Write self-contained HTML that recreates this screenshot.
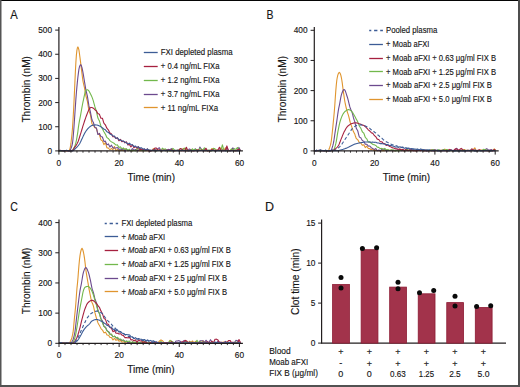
<!DOCTYPE html>
<html><head><meta charset="utf-8"><style>
html,body{margin:0;padding:0;background:#fff;}
svg{display:block;}
text{font-family:"Liberation Sans", sans-serif;fill:#161616;stroke:#161616;stroke-width:0.14px;}
</style></head><body>
<svg width="520" height="387" viewBox="0 0 520 387">
<rect x="0" y="0" width="520" height="387" fill="#fff"/>
<text x="10.20" y="18.80" font-size="12.5" textLength="7.5" lengthAdjust="spacingAndGlyphs">A</text>
<text x="151.30" y="180.90" font-size="10" text-anchor="middle">Time (min)</text>
<text transform="translate(30.4,89.3) rotate(-90)" font-size="10" text-anchor="middle" textLength="66.6" lengthAdjust="spacingAndGlyphs">Thrombin (nM)</text>
<polyline points="58.9,150.84 59.4,150.75 59.9,150.66 60.4,150.57 60.9,150.63 61.4,150.69 61.9,150.75 62.4,150.66 62.9,150.57 63.4,150.48 63.9,150.51 64.4,150.55 64.9,150.58 65.4,150.62 65.9,150.65 66.4,150.69 66.9,150.75 67.4,150.80 67.9,150.86 68.4,150.87 68.9,150.87 69.4,150.22 69.9,148.84 70.4,147.00 70.9,143.44 71.4,139.19 71.9,134.70 72.4,129.30 72.9,121.89 73.4,113.26 73.9,104.00 74.4,93.40 74.9,82.00 75.4,71.24 75.9,62.00 76.4,54.86 76.9,50.38 77.4,47.75 77.9,46.94 78.4,48.04 78.9,49.93 79.4,53.24 79.9,56.97 80.4,60.86 80.9,64.89 81.4,68.85 81.9,72.90 82.4,76.96 82.9,80.59 83.4,83.24 83.9,85.35 84.4,87.34 84.9,90.10 85.4,92.96 85.9,95.85 86.4,97.65 86.9,99.43 87.4,101.24 87.9,104.43 88.4,107.57 88.9,110.61 89.4,112.00 89.9,113.35 90.4,114.60 90.9,117.72 91.4,120.66 91.9,123.49 92.4,124.37 92.9,125.01 93.4,125.41 93.9,126.26 94.4,127.03 94.9,127.79 95.4,127.96 95.9,128.13 96.4,128.30 96.9,130.13 97.4,131.96 97.9,133.79 98.4,133.97 98.9,134.18 99.4,134.38 99.9,136.25 100.4,138.07 100.9,139.81 101.4,140.16 101.9,140.46 102.4,140.72 102.9,142.04 103.4,143.35 103.9,144.65 104.4,144.01 104.9,143.37 105.4,142.70 105.9,144.42 106.4,146.09 106.9,147.73 107.4,147.86 107.9,147.97 108.4,148.05 108.9,148.57 109.4,149.05 109.9,149.48 110.4,149.18 110.9,148.86 111.4,148.52 111.9,148.93 112.4,149.32 112.9,149.71 113.4,148.64 113.9,147.56 114.4,146.48 114.9,147.95 115.4,149.40 115.9,150.85 116.4,150.41 116.9,149.95 117.4,149.49 117.9,149.74 118.4,150.62 118.9,150.78 119.4,150.69 119.9,150.59 120.4,150.50 120.9,150.35 121.4,150.21 121.9,150.06 122.4,150.30 122.9,150.53 123.4,150.76 123.9,150.14 124.4,149.51 124.9,148.89 125.4,149.06 125.9,149.23 126.4,149.41 126.9,149.88 127.4,150.34 127.9,150.81 128.4,150.69 128.9,150.56 129.4,150.43 129.9,150.56 130.4,150.69 130.9,150.82 131.4,150.79 131.9,150.77 132.4,150.74 132.9,150.64 133.4,150.53 133.9,150.43 134.4,150.45 134.9,150.48 135.4,150.50 135.9,150.28 136.4,150.05 136.9,149.83 137.4,150.12 137.9,150.42 138.4,150.71 138.9,150.66 139.4,150.60 139.9,150.54 140.4,150.63 140.9,150.72 141.4,150.81 141.9,150.74 142.4,150.68 142.9,150.61 143.4,150.57 143.9,150.52 144.4,150.48 144.9,150.59 145.4,150.70 145.9,150.82 146.4,150.79 146.9,150.76 147.4,150.73 147.9,150.50 148.4,150.27 148.9,150.04 149.4,150.32 149.9,150.61 150.4,150.90 150.9,150.84 151.4,150.77 151.9,150.71 152.4,149.99 152.9,149.27 153.4,148.56 153.9,149.28 154.4,150.00 154.9,150.72 155.4,150.49 155.9,150.27 156.4,150.04 156.9,150.20 157.4,150.36 157.9,150.52 158.4,150.49 158.9,150.45 159.4,150.42 159.9,150.50 160.4,150.59 160.9,150.68 161.4,150.73 161.9,150.78 162.4,150.83 162.9,150.57 163.4,150.32 163.9,150.06 164.4,150.33 164.9,150.61 165.4,150.88 165.9,150.55 166.4,150.23 166.9,149.90 167.4,149.95 167.9,150.01 168.4,150.06 168.9,150.33 169.4,150.59 169.9,150.85 170.4,150.74 170.9,150.63 171.4,150.51 171.9,150.46 172.4,150.41 172.9,150.35 173.4,150.46 173.9,150.56 174.4,150.67 174.9,150.70 175.4,150.73 175.9,150.77 176.4,150.60 176.9,150.44 177.4,150.27 177.9,150.30 178.4,150.32 178.9,150.35 179.4,150.49 179.9,150.64 180.4,150.79 180.9,150.72 181.4,150.65 181.9,150.59 182.4,149.86 182.9,149.13 183.4,148.39 183.9,148.61 184.4,148.83 184.9,149.05 185.4,149.66 185.9,150.28 186.4,150.89 186.9,150.80 187.4,150.71 187.9,150.62 188.4,150.44 188.9,150.27 189.4,150.10 189.9,150.24 190.4,150.38 190.9,150.52 191.4,150.64 191.9,150.76 192.4,150.88 192.9,150.79 193.4,150.70 193.9,150.61 194.4,150.39 194.9,150.16 195.4,149.94 195.9,149.80 196.4,149.67 196.9,149.53 197.4,149.94 197.9,150.34 198.4,150.74 198.9,150.58 199.4,150.41 199.9,150.24 200.4,150.34 200.9,150.44 201.4,150.54 201.9,150.40 202.4,150.26 202.9,150.11 203.4,150.28 203.9,150.44 204.4,150.60 204.9,150.66 205.4,150.72 205.9,150.78 206.4,150.70 206.9,150.61 207.4,150.53 207.9,150.64 208.4,150.75 208.9,150.86 209.4,150.71 209.9,150.57 210.4,150.42 210.9,149.82 211.4,149.21 211.9,148.61 212.4,148.80 212.9,149.00 213.4,149.19 213.9,149.76 214.4,150.33 214.9,150.90 215.4,150.56 215.9,150.23 216.4,149.89 216.9,150.06 217.4,150.23 217.9,150.39 218.4,150.48 218.9,150.56 219.4,150.65 219.9,149.71 220.4,148.78 220.9,147.84 221.4,148.29 221.9,148.73 222.4,149.18 222.9,149.59 223.4,149.99 223.9,150.40 224.4,149.53 224.9,148.65 225.4,147.77 225.9,148.70 226.4,149.63 226.9,150.56 227.4,150.57 227.9,150.59 228.4,150.61 228.9,150.57 229.4,150.53 229.9,150.50 230.4,150.43 230.9,150.36 231.4,150.30 231.9,150.35 232.4,150.40 232.9,150.46 233.4,150.60 233.9,150.73 234.4,150.87 234.9,150.87 235.4,150.87 235.9,150.88 236.4,150.65 236.9,150.42 237.4,150.19 237.9,150.28 238.4,150.38 238.9,150.47 239.4,150.37 239.9,150.27 240.4,150.17" fill="none" stroke="#e0952e" stroke-width="1.1" stroke-linejoin="round"/>
<polyline points="58.9,150.76 59.4,150.77 59.9,150.78 60.4,150.79 60.9,150.82 61.4,150.84 61.9,150.86 62.4,150.86 62.9,150.86 63.4,150.86 63.9,150.74 64.4,150.61 64.9,150.49 65.4,150.50 65.9,150.52 66.4,150.53 66.9,150.63 67.4,150.72 67.9,150.82 68.4,150.74 68.9,150.66 69.4,150.58 69.9,150.53 70.4,149.70 70.9,148.65 71.4,147.36 71.9,145.82 72.4,143.70 72.9,139.84 73.4,134.21 73.9,128.05 74.4,120.93 74.9,113.56 75.4,106.13 75.9,98.87 76.4,92.52 76.9,86.85 77.4,81.64 77.9,77.03 78.4,73.06 78.9,69.42 79.4,67.00 79.9,65.66 80.4,64.77 80.9,64.72 81.4,65.80 81.9,67.32 82.4,69.50 82.9,72.17 83.4,74.93 83.9,77.98 84.4,81.03 84.9,84.11 85.4,87.10 85.9,89.88 86.4,92.05 86.9,94.13 87.4,96.23 87.9,99.29 88.4,102.48 88.9,105.70 89.4,107.92 89.9,109.94 90.4,111.88 90.9,114.57 91.4,117.14 91.9,119.53 92.4,120.63 92.9,121.59 93.4,122.43 93.9,124.23 94.4,125.87 94.9,127.32 95.4,127.54 95.9,127.73 96.4,128.00 96.9,130.06 97.4,132.27 97.9,134.51 98.4,134.28 98.9,133.84 99.4,133.29 99.9,134.42 100.4,135.50 100.9,136.55 101.4,136.67 101.9,136.80 102.4,136.96 102.9,138.46 103.4,139.95 103.9,141.43 104.4,141.36 104.9,141.26 105.4,141.10 105.9,142.36 106.4,143.59 106.9,144.80 107.4,144.52 107.9,144.21 108.4,143.88 108.9,144.97 109.4,146.03 109.9,147.08 110.4,146.46 110.9,145.83 111.4,145.19 111.9,146.10 112.4,147.00 112.9,147.89 113.4,147.96 113.9,148.01 114.4,148.05 114.9,148.03 115.4,148.00 115.9,147.96 116.4,147.81 116.9,147.65 117.4,147.48 117.9,148.13 118.4,148.77 118.9,149.40 119.4,149.25 119.9,149.10 120.4,148.94 120.9,149.27 121.4,149.60 121.9,149.92 122.4,149.41 122.9,148.90 123.4,148.38 123.9,149.34 124.4,150.30 124.9,151.25 125.4,150.31 125.9,149.36 126.4,149.06 126.9,149.58 127.4,150.10 127.9,150.62 128.4,150.45 128.9,150.27 129.4,150.09 129.9,150.34 130.4,150.59 130.9,150.84 131.4,150.10 131.9,149.35 132.4,148.61 132.9,149.10 133.4,149.59 133.9,150.09 134.4,149.91 134.9,149.74 135.4,149.56 135.9,149.83 136.4,150.10 136.9,150.36 137.4,150.36 137.9,150.37 138.4,150.37 138.9,149.66 139.4,148.96 139.9,148.26 140.4,148.69 140.9,149.12 141.4,149.56 141.9,149.89 142.4,150.22 142.9,150.55 143.4,150.47 143.9,150.39 144.4,150.31 144.9,150.15 145.4,149.99 145.9,149.83 146.4,149.87 146.9,149.91 147.4,149.96 147.9,150.15 148.4,150.34 148.9,150.53 149.4,150.64 149.9,150.75 150.4,150.87 150.9,150.65 151.4,150.42 151.9,150.20 152.4,150.09 152.9,149.98 153.4,149.87 153.9,149.55 154.4,149.24 154.9,148.92 155.4,149.56 155.9,150.19 156.4,150.83 156.9,150.07 157.4,149.31 157.9,148.56 158.4,148.29 158.9,148.03 159.4,147.77 159.9,148.71 160.4,149.66 160.9,150.61 161.4,150.42 161.9,150.22 162.4,150.03 162.9,150.02 163.4,150.01 163.9,150.00 164.4,149.90 164.9,149.79 165.4,149.68 165.9,149.98 166.4,150.28 166.9,150.58 167.4,150.17 167.9,149.76 168.4,149.35 168.9,149.47 169.4,149.59 169.9,149.71 170.4,149.36 170.9,149.01 171.4,148.66 171.9,149.31 172.4,149.96 172.9,150.61 173.4,150.48 173.9,150.34 174.4,150.21 174.9,150.39 175.4,150.57 175.9,150.76 176.4,150.55 176.9,150.34 177.4,150.13 177.9,150.11 178.4,150.08 178.9,150.06 179.4,150.20 179.9,150.34 180.4,150.48 180.9,150.60 181.4,150.71 181.9,150.83 182.4,150.69 182.9,150.56 183.4,150.42 183.9,150.48 184.4,150.54 184.9,150.60 185.4,150.28 185.9,149.96 186.4,149.65 186.9,149.94 187.4,150.23 187.9,150.53 188.4,150.01 188.9,149.49 189.4,148.97 189.9,149.31 190.4,149.66 190.9,150.00 191.4,150.25 191.9,150.49 192.4,150.74 192.9,150.54 193.4,150.34 193.9,150.14 194.4,149.71 194.9,149.28 195.4,148.84 195.9,149.36 196.4,149.87 196.9,150.39 197.4,150.55 197.9,150.71 198.4,150.87 198.9,149.61 199.4,148.34 199.9,147.07 200.4,147.76 200.9,148.45 201.4,149.14 201.9,149.48 202.4,149.83 202.9,150.17 203.4,150.04 203.9,149.90 204.4,149.77 204.9,149.88 205.4,149.98 205.9,150.09 206.4,150.35 206.9,150.60 207.4,150.86 207.9,150.64 208.4,150.41 208.9,150.19 209.4,150.32 209.9,150.45 210.4,150.58 210.9,150.31 211.4,150.03 211.9,149.76 212.4,149.85 212.9,149.93 213.4,150.01 213.9,150.22 214.4,150.43 214.9,150.64 215.4,150.66 215.9,150.68 216.4,150.71 216.9,150.52 217.4,150.33 217.9,150.14 218.4,150.11 218.9,150.07 219.4,150.03 219.9,149.98 220.4,149.93 220.9,149.88 221.4,149.94 221.9,150.00 222.4,150.05 222.9,150.11 223.4,150.16 223.9,150.21 224.4,150.39 224.9,150.58 225.4,150.76 225.9,149.79 226.4,148.83 226.9,147.86 227.4,148.61 227.9,149.37 228.4,150.12 228.9,150.37 229.4,150.61 229.9,150.86 230.4,150.74 230.9,150.61 231.4,150.49 231.9,149.62 232.4,148.76 232.9,147.89 233.4,148.78 233.9,149.67 234.4,150.55 234.9,150.60 235.4,150.65 235.9,150.70 236.4,150.60 236.9,150.50 237.4,150.40 237.9,149.40 238.4,148.40 238.9,147.40 239.4,148.40 239.9,149.40 240.4,150.40" fill="none" stroke="#6c4a8e" stroke-width="1.1" stroke-linejoin="round"/>
<polyline points="58.9,150.82 59.4,150.83 59.9,150.83 60.4,150.83 60.9,150.83 61.4,150.83 61.9,150.83 62.4,150.85 62.9,150.87 63.4,150.89 63.9,150.79 64.4,150.69 64.9,150.60 65.4,150.60 65.9,150.61 66.4,150.62 66.9,150.57 67.4,150.52 67.9,150.48 68.4,150.60 68.9,150.72 69.4,150.83 69.9,150.82 70.4,150.81 70.9,150.80 71.4,150.83 71.9,150.63 72.4,150.13 72.9,149.48 73.4,148.72 73.9,147.88 74.4,146.89 74.9,145.72 75.4,144.32 75.9,142.61 76.4,140.34 76.9,137.65 77.4,134.70 77.9,131.33 78.4,127.42 78.9,123.99 79.4,121.18 79.9,118.61 80.4,116.07 80.9,113.34 81.4,110.50 81.9,107.68 82.4,105.00 82.9,102.47 83.4,100.02 83.9,97.67 84.4,95.43 84.9,93.12 85.4,91.19 85.9,90.45 86.4,89.94 86.9,89.71 87.4,89.78 87.9,90.05 88.4,90.42 88.9,90.94 89.4,91.77 89.9,92.73 90.4,93.69 90.9,94.66 91.4,95.70 91.9,96.87 92.4,98.15 92.9,99.61 93.4,101.19 93.9,103.03 94.4,104.87 94.9,106.72 95.4,108.22 95.9,109.77 96.4,111.34 96.9,113.65 97.4,115.89 97.9,118.04 98.4,119.01 98.9,119.96 99.4,120.87 99.9,122.66 100.4,124.39 100.9,126.03 101.4,127.00 101.9,127.88 102.4,128.73 102.9,129.76 103.4,130.75 103.9,131.70 104.4,132.55 104.9,133.37 105.4,134.13 105.9,135.31 106.4,136.44 106.9,137.51 107.4,137.86 107.9,138.20 108.4,138.51 108.9,139.23 109.4,139.93 109.9,140.61 110.4,140.99 110.9,141.34 111.4,141.67 111.9,141.97 112.4,142.24 112.9,142.49 113.4,142.87 113.9,143.22 114.4,143.57 114.9,144.06 115.4,144.55 115.9,145.02 116.4,144.99 116.9,144.95 117.4,144.90 117.9,145.76 118.4,146.60 118.9,147.44 119.4,147.26 119.9,147.08 120.4,146.88 120.9,147.53 121.4,148.17 121.9,148.80 122.4,148.54 122.9,148.26 123.4,147.97 123.9,148.51 124.4,149.04 124.9,149.57 125.4,149.33 125.9,149.08 126.4,148.83 126.9,149.37 127.4,149.91 127.9,150.44 128.4,150.05 128.9,149.65 129.4,149.25 129.9,149.77 130.4,150.29 130.9,150.79 131.4,150.53 131.9,150.25 132.4,150.85 132.9,150.67 133.4,150.49 133.9,150.30 134.4,150.49 134.9,150.68 135.4,150.87 135.9,150.43 136.4,149.99 136.9,149.56 137.4,148.96 137.9,148.37 138.4,147.78 138.9,148.23 139.4,148.67 139.9,149.12 140.4,149.48 140.9,149.85 141.4,150.21 141.9,150.17 142.4,150.13 142.9,150.09 143.4,150.29 143.9,150.48 144.4,150.68 144.9,150.62 145.4,150.57 145.9,150.51 146.4,150.30 146.9,150.09 147.4,149.88 147.9,150.08 148.4,150.29 148.9,150.49 149.4,150.45 149.9,150.42 150.4,150.38 150.9,150.46 151.4,150.54 151.9,150.62 152.4,150.52 152.9,150.43 153.4,150.34 153.9,150.22 154.4,150.10 154.9,149.98 155.4,150.28 155.9,150.58 156.4,150.88 156.9,150.66 157.4,150.44 157.9,150.22 158.4,150.19 158.9,150.15 159.4,150.12 159.9,150.37 160.4,150.63 160.9,150.88 161.4,149.98 161.9,149.07 162.4,148.17 162.9,148.58 163.4,149.00 163.9,149.42 164.4,149.25 164.9,149.09 165.4,148.92 165.9,149.49 166.4,150.06 166.9,150.63 167.4,150.66 167.9,150.69 168.4,150.72 168.9,150.69 169.4,150.65 169.9,150.62 170.4,150.65 170.9,150.68 171.4,150.70 171.9,149.92 172.4,149.14 172.9,148.36 173.4,148.89 173.9,149.42 174.4,149.96 174.9,150.17 175.4,150.39 175.9,150.61 176.4,150.49 176.9,150.36 177.4,150.24 177.9,150.27 178.4,150.29 178.9,150.32 179.4,149.73 179.9,149.14 180.4,148.54 180.9,148.92 181.4,149.29 181.9,149.66 182.4,149.49 182.9,149.32 183.4,149.15 183.9,148.75 184.4,148.35 184.9,147.96 185.4,148.33 185.9,148.71 186.4,149.09 186.9,149.54 187.4,149.98 187.9,150.43 188.4,150.52 188.9,150.60 189.4,150.69 189.9,150.62 190.4,150.55 190.9,150.49 191.4,149.92 191.9,149.35 192.4,148.78 192.9,149.33 193.4,149.88 193.9,150.43 194.4,149.98 194.9,149.52 195.4,149.06 195.9,149.52 196.4,149.97 196.9,150.42 197.4,150.46 197.9,150.49 198.4,150.53 198.9,149.80 199.4,149.08 199.9,148.35 200.4,148.74 200.9,149.13 201.4,149.52 201.9,149.74 202.4,149.97 202.9,150.19 203.4,149.40 203.9,148.62 204.4,147.83 204.9,148.21 205.4,148.59 205.9,148.97 206.4,149.57 206.9,150.17 207.4,150.78 207.9,150.53 208.4,150.28 208.9,150.03 209.4,150.30 209.9,150.56 210.4,150.83 210.9,150.84 211.4,150.84 211.9,150.85 212.4,149.96 212.9,149.07 213.4,148.19 213.9,148.39 214.4,148.60 214.9,148.81 215.4,149.34 215.9,149.88 216.4,150.42 216.9,150.46 217.4,150.49 217.9,150.53 218.4,150.54 218.9,150.55 219.4,150.55 219.9,150.50 220.4,150.45 220.9,150.40 221.4,148.57 221.9,146.73 222.4,144.90 222.9,146.73 223.4,148.57 223.9,150.40 224.4,150.42 224.9,150.44 225.4,150.46 225.9,150.53 226.4,150.59 226.9,150.66 227.4,150.68 227.9,150.70 228.4,150.73 228.9,150.76 229.4,150.79 229.9,150.82 230.4,150.14 230.9,149.46 231.4,148.78 231.9,149.36 232.4,149.93 232.9,150.51 233.4,149.88 233.9,149.26 234.4,148.64 234.9,148.88 235.4,149.13 235.9,149.37 236.4,148.76 236.9,148.15 237.4,147.54 237.9,148.35 238.4,149.16 238.9,149.98 239.4,150.15 239.9,150.32 240.4,150.49" fill="none" stroke="#72b84c" stroke-width="1.1" stroke-linejoin="round"/>
<polyline points="58.9,150.44 59.4,150.40 59.9,150.35 60.4,150.31 60.9,150.42 61.4,150.53 61.9,150.64 62.4,150.73 62.9,150.81 63.4,150.89 63.9,150.83 64.4,150.76 64.9,150.69 65.4,150.74 65.9,150.79 66.4,150.84 66.9,150.81 67.4,150.78 67.9,150.75 68.4,150.80 68.9,150.84 69.4,150.89 69.9,150.87 70.4,150.86 70.9,150.84 71.4,150.81 71.9,150.78 72.4,150.75 72.9,150.16 73.4,149.40 73.9,148.64 74.4,147.84 74.9,147.08 75.4,146.35 75.9,145.63 76.4,144.87 76.9,144.04 77.4,143.11 77.9,142.02 78.4,140.72 78.9,139.24 79.4,137.65 79.9,136.02 80.4,134.41 80.9,132.83 81.4,131.18 81.9,129.51 82.4,127.83 82.9,126.18 83.4,124.60 83.9,123.06 84.4,121.54 84.9,120.04 85.4,118.58 85.9,117.16 86.4,115.79 86.9,114.47 87.4,113.14 87.9,111.86 88.4,110.73 88.9,109.84 89.4,109.02 89.9,108.26 90.4,107.69 90.9,107.41 91.4,107.43 91.9,107.56 92.4,107.74 92.9,107.96 93.4,108.22 93.9,108.64 94.4,109.15 94.9,109.73 95.4,110.10 95.9,110.48 96.4,110.86 96.9,111.76 97.4,112.70 97.9,113.67 98.4,113.86 98.9,114.08 99.4,114.32 99.9,115.61 100.4,116.92 100.9,118.25 101.4,118.20 101.9,118.19 102.4,118.21 102.9,119.89 103.4,121.56 103.9,123.20 104.4,123.80 104.9,124.39 105.4,124.97 105.9,126.07 106.4,127.15 106.9,128.21 107.4,128.82 107.9,129.41 108.4,129.96 108.9,130.97 109.4,131.98 109.9,132.99 110.4,133.27 110.9,133.54 111.4,133.79 111.9,134.82 112.4,135.82 112.9,136.80 113.4,136.71 113.9,136.58 114.4,136.41 114.9,137.15 115.4,137.86 115.9,138.54 116.4,138.32 116.9,138.08 117.4,137.82 117.9,138.82 118.4,139.80 118.9,140.78 119.4,140.28 119.9,139.79 120.4,139.30 120.9,140.11 121.4,140.91 121.9,141.70 122.4,141.47 122.9,141.24 123.4,141.02 123.9,141.61 124.4,142.21 124.9,142.83 125.4,142.46 125.9,142.10 126.4,141.75 126.9,142.81 127.4,143.86 127.9,144.91 128.4,144.77 128.9,144.62 129.4,144.46 129.9,145.29 130.4,146.10 130.9,146.92 131.4,146.19 131.9,145.45 132.4,144.71 132.9,145.76 133.4,146.81 133.9,147.85 134.4,147.41 134.9,146.96 135.4,146.51 135.9,147.11 136.4,147.70 136.9,148.28 137.4,147.76 137.9,147.22 138.4,146.68 138.9,147.69 139.4,148.68 139.9,149.67 140.4,149.48 140.9,149.28 141.4,149.08 141.9,149.28 142.4,149.47 142.9,149.67 143.4,149.55 143.9,149.42 144.4,149.29 144.9,149.61 145.4,149.92 145.9,150.23 146.4,149.81 146.9,149.38 147.4,148.95 147.9,149.71 148.4,150.47 148.9,151.22 149.4,150.89 149.9,150.55 150.4,150.88 150.9,150.67 151.4,150.45 151.9,150.23 152.4,150.40 152.9,150.58 153.4,150.76 153.9,149.83 154.4,148.90 154.9,147.97 155.4,148.01 155.9,148.06 156.4,148.11 156.9,148.78 157.4,149.44 157.9,150.11 158.4,150.01 158.9,149.92 159.4,149.82 159.9,150.12 160.4,150.42 160.9,150.72 161.4,150.54 161.9,150.36 162.4,150.18 162.9,150.24 163.4,150.29 163.9,150.35 164.4,150.37 164.9,150.40 165.4,150.43 165.9,150.41 166.4,150.40 166.9,150.39 167.4,150.27 167.9,150.16 168.4,150.04 168.9,150.29 169.4,150.53 169.9,150.78 170.4,150.45 170.9,150.13 171.4,149.80 171.9,150.01 172.4,150.22 172.9,150.43 173.4,150.58 173.9,150.74 174.4,150.89 174.9,150.74 175.4,150.58 175.9,150.42 176.4,150.45 176.9,150.48 177.4,150.51 177.9,150.52 178.4,150.54 178.9,150.55 179.4,149.85 179.9,149.15 180.4,148.45 180.9,148.70 181.4,148.95 181.9,149.20 182.4,149.75 182.9,150.30 183.4,150.84 183.9,150.65 184.4,150.45 184.9,150.26 185.4,149.25 185.9,148.25 186.4,147.25 186.9,148.45 187.4,149.65 187.9,150.84 188.4,150.80 188.9,150.76 189.4,150.72 189.9,150.56 190.4,150.41 190.9,150.26 191.4,150.37 191.9,150.48 192.4,150.58 192.9,150.67 193.4,150.76 193.9,150.84 194.4,150.82 194.9,150.79 195.4,150.77 195.9,150.55 196.4,150.34 196.9,150.12 197.4,150.08 197.9,150.03 198.4,149.99 198.9,150.21 199.4,150.44 199.9,150.67 200.4,150.46 200.9,150.26 201.4,150.05 201.9,150.29 202.4,150.53 202.9,150.76 203.4,150.71 203.9,150.66 204.4,150.60 204.9,149.83 205.4,149.06 205.9,148.29 206.4,149.08 206.9,149.86 207.4,150.65 207.9,150.62 208.4,150.59 208.9,150.56 209.4,150.67 209.9,150.78 210.4,150.88 210.9,150.47 211.4,150.06 211.9,149.65 212.4,149.82 212.9,149.99 213.4,150.16 213.9,150.24 214.4,150.32 214.9,150.40 215.4,150.44 215.9,150.47 216.4,150.51 216.9,150.37 217.4,150.24 217.9,150.10 218.4,149.16 218.9,148.21 219.4,147.26 219.9,148.31 220.4,149.37 220.9,150.42 221.4,150.55 221.9,150.67 222.4,150.79 222.9,150.74 223.4,150.68 223.9,150.62 224.4,150.55 224.9,150.47 225.4,150.40 225.9,148.90 226.4,147.40 226.9,145.90 227.4,147.54 227.9,149.18 228.4,150.82 228.9,150.78 229.4,150.73 229.9,150.69 230.4,150.59 230.9,150.49 231.4,150.39 231.9,150.41 232.4,150.42 232.9,150.44 233.4,150.46 233.9,150.47 234.4,150.49 234.9,150.47 235.4,150.44 235.9,150.42 236.4,150.26 236.9,150.11 237.4,149.95 237.9,149.71 238.4,149.46 238.9,149.21 239.4,149.73 239.9,150.25 240.4,150.76" fill="none" stroke="#a6203f" stroke-width="1.1" stroke-linejoin="round"/>
<polyline points="58.9,150.73 59.4,150.70 59.9,150.67 60.4,150.64 60.9,150.65 61.4,150.66 61.9,150.68 62.4,150.74 62.9,150.81 63.4,150.87 63.9,150.86 64.4,150.84 64.9,150.83 65.4,150.61 65.9,150.39 66.4,150.16 66.9,150.40 67.4,150.64 67.9,150.88 68.4,150.87 68.9,150.86 69.4,150.84 69.9,150.85 70.4,150.85 70.9,150.86 71.4,150.85 71.9,150.84 72.4,150.83 72.9,150.86 73.4,150.55 73.9,150.13 74.4,149.68 74.9,149.20 75.4,148.71 75.9,148.19 76.4,147.67 76.9,147.14 77.4,146.58 77.9,146.00 78.4,145.38 78.9,144.72 79.4,144.00 79.9,143.20 80.4,142.25 80.9,141.19 81.4,140.07 81.9,138.96 82.4,137.90 82.9,136.87 83.4,135.82 83.9,134.78 84.4,133.78 84.9,132.86 85.4,132.05 85.9,131.29 86.4,130.56 86.9,129.86 87.4,129.21 87.9,128.61 88.4,128.06 88.9,127.58 89.4,127.15 89.9,126.74 90.4,126.35 90.9,126.01 91.4,125.74 91.9,125.53 92.4,125.39 92.9,125.25 93.4,125.13 93.9,125.03 94.4,124.96 94.9,124.91 95.4,124.90 95.9,124.93 96.4,124.98 96.9,125.06 97.4,125.16 97.9,125.28 98.4,125.41 98.9,125.62 99.4,125.89 99.9,126.19 100.4,126.49 100.9,126.83 101.4,127.16 101.9,127.51 102.4,127.87 102.9,128.29 103.4,128.71 103.9,129.13 104.4,129.35 104.9,129.57 105.4,129.80 105.9,130.45 106.4,131.10 106.9,131.75 107.4,132.00 107.9,132.24 108.4,132.47 108.9,132.99 109.4,133.49 109.9,133.98 110.4,134.20 110.9,134.41 111.4,134.61 111.9,135.01 112.4,135.41 112.9,135.80 113.4,135.92 113.9,136.03 114.4,136.14 114.9,136.84 115.4,137.53 115.9,138.21 116.4,138.07 116.9,137.93 117.4,137.79 117.9,138.40 118.4,139.01 118.9,139.61 119.4,139.76 119.9,139.91 120.4,140.05 120.9,140.26 121.4,140.46 121.9,140.66 122.4,140.88 122.9,141.09 123.4,141.30 123.9,141.56 124.4,141.82 124.9,142.09 125.4,142.32 125.9,142.55 126.4,142.78 126.9,143.24 127.4,143.70 127.9,144.16 128.4,143.83 128.9,143.50 129.4,143.16 129.9,143.69 130.4,144.21 130.9,144.73 131.4,144.71 131.9,144.70 132.4,144.68 132.9,145.32 133.4,145.95 133.9,146.58 134.4,146.38 134.9,146.17 135.4,145.96 135.9,146.38 136.4,146.81 136.9,147.22 137.4,147.11 137.9,147.00 138.4,146.88 138.9,147.31 139.4,147.74 139.9,148.16 140.4,148.01 140.9,147.85 141.4,147.70 141.9,148.17 142.4,148.64 142.9,149.10 143.4,148.97 143.9,148.84 144.4,148.70 144.9,149.27 145.4,149.84 145.9,150.40 146.4,149.91 146.9,149.41 147.4,148.90 147.9,149.34 148.4,149.76 148.9,150.19 149.4,150.15 149.9,150.12 150.4,150.08 150.9,150.83 151.4,150.72 151.9,150.62 152.4,150.50 152.9,150.39 153.4,150.27 153.9,150.46 154.4,150.65 154.9,150.84 155.4,150.74 155.9,150.65 156.4,150.56 156.9,150.56 157.4,150.57 157.9,150.58 158.4,150.55 158.9,150.52 159.4,150.48 159.9,150.56 160.4,150.63 160.9,150.71 161.4,150.70 161.9,150.69 162.4,150.68 162.9,150.62 163.4,150.56 163.9,150.50 164.4,150.58 164.9,150.66 165.4,150.74 165.9,150.53 166.4,150.32 166.9,150.12 167.4,150.25 167.9,150.37 168.4,150.50 168.9,150.43 169.4,150.36 169.9,150.30 170.4,150.39 170.9,150.49 171.4,150.59 171.9,150.64 172.4,150.69 172.9,150.74 173.4,150.75 173.9,150.76 174.4,150.76 174.9,150.63 175.4,150.50 175.9,150.37 176.4,150.49 176.9,150.62 177.4,150.74 177.9,150.79 178.4,150.83 178.9,150.88 179.4,150.76 179.9,150.65 180.4,150.53 180.9,150.47 181.4,150.42 181.9,150.36 182.4,150.36 182.9,150.37 183.4,150.37 183.9,150.48 184.4,150.58 184.9,150.69 185.4,150.69 185.9,150.69 186.4,150.69 186.9,150.75 187.4,150.82 187.9,150.89 188.4,150.86 188.9,150.83 189.4,150.80 189.9,150.75 190.4,150.69 190.9,150.64 191.4,150.59 191.9,150.55 192.4,150.50 192.9,150.62 193.4,150.73 193.9,150.85 194.4,150.68 194.9,150.51 195.4,150.34 195.9,150.52 196.4,150.71 196.9,150.89 197.4,150.77 197.9,150.66 198.4,150.54 198.9,150.55 199.4,150.55 199.9,150.56 200.4,150.54 200.9,150.52 201.4,150.51 201.9,150.56 202.4,150.62 202.9,150.68 203.4,150.61 203.9,150.55 204.4,150.49 204.9,150.60 205.4,150.71 205.9,150.82 206.4,150.81 206.9,150.80 207.4,150.79 207.9,150.67 208.4,150.55 208.9,150.44 209.4,150.54 209.9,150.65 210.4,150.76 210.9,150.68 211.4,150.60 211.9,150.52 212.4,150.48 212.9,150.44 213.4,150.40 213.9,150.55 214.4,150.69 214.9,150.84 215.4,150.85 215.9,150.87 216.4,150.89 216.9,150.82 217.4,150.76 217.9,150.69 218.4,150.67 218.9,150.64 219.4,150.61 219.9,150.66 220.4,150.70 220.9,150.74 221.4,150.75 221.9,150.77 222.4,150.78 222.9,150.78 223.4,150.78 223.9,150.78 224.4,150.81 224.9,150.85 225.4,150.88 225.9,150.85 226.4,150.81 226.9,150.77 227.4,150.77 227.9,150.78 228.4,150.78 228.9,150.77 229.4,150.76 229.9,150.74 230.4,150.76 230.9,150.78 231.4,150.79 231.9,150.76 232.4,150.73 232.9,150.70 233.4,150.71 233.9,150.71 234.4,150.72 234.9,150.73 235.4,150.75 235.9,150.77 236.4,150.79 236.9,150.82 237.4,150.84 237.9,150.86 238.4,150.87 238.9,150.89 239.4,150.64 239.9,150.40 240.4,150.15" fill="none" stroke="#3c5c96" stroke-width="1.1" stroke-linejoin="round"/>
<line x1="58.90" y1="27.00" x2="58.90" y2="151.40" stroke="#231f20" stroke-width="1.2"/>
<line x1="55.20" y1="150.90" x2="58.90" y2="150.90" stroke="#231f20" stroke-width="1.0"/>
<text x="52.10" y="153.85" font-size="8.3" text-anchor="end">0</text>
<line x1="55.20" y1="126.74" x2="58.90" y2="126.74" stroke="#231f20" stroke-width="1.0"/>
<text x="52.10" y="129.69" font-size="8.3" text-anchor="end">100</text>
<line x1="55.20" y1="102.58" x2="58.90" y2="102.58" stroke="#231f20" stroke-width="1.0"/>
<text x="52.10" y="105.53" font-size="8.3" text-anchor="end">200</text>
<line x1="55.20" y1="78.42" x2="58.90" y2="78.42" stroke="#231f20" stroke-width="1.0"/>
<text x="52.10" y="81.37" font-size="8.3" text-anchor="end">300</text>
<line x1="55.20" y1="54.26" x2="58.90" y2="54.26" stroke="#231f20" stroke-width="1.0"/>
<text x="52.10" y="57.21" font-size="8.3" text-anchor="end">400</text>
<line x1="55.20" y1="30.10" x2="58.90" y2="30.10" stroke="#231f20" stroke-width="1.0"/>
<text x="52.10" y="33.05" font-size="8.3" text-anchor="end">500</text>
<line x1="58.40" y1="150.90" x2="242.90" y2="150.90" stroke="#231f20" stroke-width="1.2"/>
<line x1="58.90" y1="150.90" x2="58.90" y2="154.60" stroke="#231f20" stroke-width="1.0"/>
<text x="58.90" y="165.60" font-size="8.3" text-anchor="middle">0</text>
<line x1="64.92" y1="150.90" x2="64.92" y2="152.70" stroke="#231f20" stroke-width="0.9"/>
<line x1="70.94" y1="150.90" x2="70.94" y2="152.70" stroke="#231f20" stroke-width="0.9"/>
<line x1="76.96" y1="150.90" x2="76.96" y2="152.70" stroke="#231f20" stroke-width="0.9"/>
<line x1="82.98" y1="150.90" x2="82.98" y2="152.70" stroke="#231f20" stroke-width="0.9"/>
<line x1="89.00" y1="150.90" x2="89.00" y2="152.70" stroke="#231f20" stroke-width="0.9"/>
<line x1="95.02" y1="150.90" x2="95.02" y2="152.70" stroke="#231f20" stroke-width="0.9"/>
<line x1="101.04" y1="150.90" x2="101.04" y2="152.70" stroke="#231f20" stroke-width="0.9"/>
<line x1="107.06" y1="150.90" x2="107.06" y2="152.70" stroke="#231f20" stroke-width="0.9"/>
<line x1="113.08" y1="150.90" x2="113.08" y2="152.70" stroke="#231f20" stroke-width="0.9"/>
<line x1="119.10" y1="150.90" x2="119.10" y2="154.60" stroke="#231f20" stroke-width="1.0"/>
<text x="119.10" y="165.60" font-size="8.3" text-anchor="middle">20</text>
<line x1="125.12" y1="150.90" x2="125.12" y2="152.70" stroke="#231f20" stroke-width="0.9"/>
<line x1="131.14" y1="150.90" x2="131.14" y2="152.70" stroke="#231f20" stroke-width="0.9"/>
<line x1="137.16" y1="150.90" x2="137.16" y2="152.70" stroke="#231f20" stroke-width="0.9"/>
<line x1="143.18" y1="150.90" x2="143.18" y2="152.70" stroke="#231f20" stroke-width="0.9"/>
<line x1="149.20" y1="150.90" x2="149.20" y2="152.70" stroke="#231f20" stroke-width="0.9"/>
<line x1="155.22" y1="150.90" x2="155.22" y2="152.70" stroke="#231f20" stroke-width="0.9"/>
<line x1="161.24" y1="150.90" x2="161.24" y2="152.70" stroke="#231f20" stroke-width="0.9"/>
<line x1="167.26" y1="150.90" x2="167.26" y2="152.70" stroke="#231f20" stroke-width="0.9"/>
<line x1="173.28" y1="150.90" x2="173.28" y2="152.70" stroke="#231f20" stroke-width="0.9"/>
<line x1="179.30" y1="150.90" x2="179.30" y2="154.60" stroke="#231f20" stroke-width="1.0"/>
<text x="179.30" y="165.60" font-size="8.3" text-anchor="middle">40</text>
<line x1="185.32" y1="150.90" x2="185.32" y2="152.70" stroke="#231f20" stroke-width="0.9"/>
<line x1="191.34" y1="150.90" x2="191.34" y2="152.70" stroke="#231f20" stroke-width="0.9"/>
<line x1="197.36" y1="150.90" x2="197.36" y2="152.70" stroke="#231f20" stroke-width="0.9"/>
<line x1="203.38" y1="150.90" x2="203.38" y2="152.70" stroke="#231f20" stroke-width="0.9"/>
<line x1="209.40" y1="150.90" x2="209.40" y2="152.70" stroke="#231f20" stroke-width="0.9"/>
<line x1="215.42" y1="150.90" x2="215.42" y2="152.70" stroke="#231f20" stroke-width="0.9"/>
<line x1="221.44" y1="150.90" x2="221.44" y2="152.70" stroke="#231f20" stroke-width="0.9"/>
<line x1="227.46" y1="150.90" x2="227.46" y2="152.70" stroke="#231f20" stroke-width="0.9"/>
<line x1="233.48" y1="150.90" x2="233.48" y2="152.70" stroke="#231f20" stroke-width="0.9"/>
<line x1="239.50" y1="150.90" x2="239.50" y2="154.60" stroke="#231f20" stroke-width="1.0"/>
<text x="239.50" y="165.60" font-size="8.3" text-anchor="middle">60</text>
<line x1="143.80" y1="52.50" x2="157.70" y2="52.50" stroke="#3c5c96" stroke-width="1.3"/>
<text x="160.80" y="55.20" font-size="8.7" textLength="71.8" lengthAdjust="spacingAndGlyphs">FXI depleted plasma</text>
<line x1="143.80" y1="66.50" x2="157.70" y2="66.50" stroke="#a6203f" stroke-width="1.3"/>
<text x="160.80" y="69.03" font-size="8.7" textLength="58.7" lengthAdjust="spacingAndGlyphs">+ 0.4 ng/mL FIXa</text>
<line x1="143.80" y1="80.50" x2="157.70" y2="80.50" stroke="#72b84c" stroke-width="1.3"/>
<text x="160.80" y="82.86" font-size="8.7" textLength="58.7" lengthAdjust="spacingAndGlyphs">+ 1.2 ng/mL FIXa</text>
<line x1="143.80" y1="94.50" x2="157.70" y2="94.50" stroke="#6c4a8e" stroke-width="1.3"/>
<text x="160.80" y="96.69" font-size="8.7" textLength="58.7" lengthAdjust="spacingAndGlyphs">+ 3.7 ng/mL FIXa</text>
<line x1="143.80" y1="107.50" x2="157.70" y2="107.50" stroke="#e0952e" stroke-width="1.3"/>
<text x="160.80" y="110.52" font-size="8.7" textLength="57.3" lengthAdjust="spacingAndGlyphs">+ 11 ng/mL FIXa</text>
<text x="266.40" y="19.00" font-size="12.5" textLength="7.0" lengthAdjust="spacingAndGlyphs">B</text>
<text x="406.35" y="180.90" font-size="10" text-anchor="middle">Time (min)</text>
<text transform="translate(286.2,89.2) rotate(-90)" font-size="10" text-anchor="middle" textLength="66.6" lengthAdjust="spacingAndGlyphs">Thrombin (nM)</text>
<polyline points="314.3,150.81 314.8,150.82 315.3,150.82 315.8,150.83 316.3,150.79 316.8,150.75 317.3,150.71 317.8,150.71 318.3,150.71 318.8,150.72 319.3,150.71 319.8,150.71 320.3,150.70 320.8,150.75 321.3,150.81 321.8,150.86 322.3,150.78 322.8,150.71 323.3,150.64 323.8,150.70 324.3,150.77 324.8,150.83 325.3,150.84 325.8,150.86 326.3,150.87 326.8,150.84 327.3,150.81 327.8,150.78 328.3,150.82 328.8,149.97 329.3,148.52 329.8,147.15 330.3,145.65 330.8,143.75 331.3,140.87 331.8,136.74 332.3,132.20 332.8,127.38 333.3,122.15 333.8,116.96 334.3,111.58 334.8,105.26 335.3,97.44 335.8,90.61 336.3,84.88 336.8,80.24 337.3,77.28 337.8,75.14 338.3,73.79 338.8,72.83 339.3,72.40 339.8,72.83 340.3,73.79 340.8,75.19 341.3,77.39 341.8,80.01 342.3,83.44 342.8,87.32 343.3,91.09 343.8,94.56 344.3,98.06 344.8,101.26 345.3,103.98 345.8,106.11 346.3,108.25 346.8,110.18 347.3,112.05 347.8,113.41 348.3,114.94 348.8,116.57 349.3,118.69 349.8,120.75 350.3,122.65 350.8,124.17 351.3,125.56 351.8,126.85 352.3,128.35 352.8,129.84 353.3,131.33 353.8,132.26 354.3,133.19 354.8,134.08 355.3,135.72 355.8,137.21 356.3,138.52 356.8,138.95 357.3,139.33 357.8,139.64 358.3,140.64 358.8,141.59 359.3,142.50 359.8,142.68 360.3,142.83 360.8,142.95 361.3,143.74 361.8,144.50 362.3,145.25 362.8,145.10 363.3,144.94 363.8,144.77 364.3,145.69 364.8,146.62 365.3,147.56 365.8,147.06 366.3,146.57 366.8,146.07 367.3,146.91 367.8,147.75 368.3,148.56 368.8,148.59 369.3,148.60 369.8,148.58 370.3,149.03 370.8,149.47 371.3,149.90 371.8,149.57 372.3,149.23 372.8,148.88 373.3,149.55 373.8,150.21 374.3,150.85 374.8,150.53 375.3,150.19 375.8,149.83 376.3,150.54 376.8,150.65 377.3,150.76 377.8,150.75 378.3,150.74 378.8,150.73 379.3,150.71 379.8,150.68 380.3,150.66 380.8,150.69 381.3,150.73 381.8,150.76 382.3,150.70 382.8,150.63 383.3,150.57 383.8,150.63 384.3,150.70 384.8,150.76 385.3,150.55 385.8,150.33 386.3,150.11 386.8,150.15 387.3,150.19 387.8,150.23 388.3,150.37 388.8,150.51 389.3,150.64 389.8,150.47 390.3,150.29 390.8,150.11 391.3,150.34 391.8,150.56 392.3,150.79 392.8,150.76 393.3,150.74 393.8,150.71 394.3,150.75 394.8,150.79 395.3,150.82 395.8,150.66 396.3,150.49 396.8,150.33 397.3,150.45 397.8,150.58 398.3,150.70 398.8,150.16 399.3,149.63 399.8,149.09 400.3,149.48 400.8,149.87 401.3,150.26 401.8,150.42 402.3,150.57 402.8,150.73 403.3,150.74 403.8,150.74 404.3,150.74 404.8,150.76 405.3,150.78 405.8,150.80 406.3,150.53 406.8,150.26 407.3,149.99 407.8,150.10 408.3,150.21 408.8,150.32 409.3,150.44 409.8,150.55 410.3,150.67 410.8,150.74 411.3,150.81 411.8,150.88 412.3,150.61 412.8,150.35 413.3,150.08 413.8,150.24 414.3,150.39 414.8,150.55 415.3,150.64 415.8,150.72 416.3,150.81 416.8,150.36 417.3,149.90 417.8,149.44 418.3,149.80 418.8,150.16 419.3,150.52 419.8,150.49 420.3,150.47 420.8,150.45 421.3,150.09 421.8,149.73 422.3,149.37 422.8,149.87 423.3,150.37 423.8,150.88 424.3,150.74 424.8,150.61 425.3,150.48 425.8,150.60 426.3,150.72 426.8,150.84 427.3,150.73 427.8,150.63 428.3,150.52 428.8,150.61 429.3,150.70 429.8,150.79 430.3,150.39 430.8,149.99 431.3,149.58 431.8,149.81 432.3,150.04 432.8,150.26 433.3,150.01 433.8,149.76 434.3,149.51 434.8,149.95 435.3,150.39 435.8,150.83 436.3,150.71 436.8,150.58 437.3,150.46 437.8,150.50 438.3,150.55 438.8,150.59 439.3,150.66 439.8,150.74 440.3,150.81 440.8,150.52 441.3,150.23 441.8,149.93 442.3,150.10 442.8,150.27 443.3,150.43 443.8,149.97 444.3,149.51 444.8,149.04 445.3,149.63 445.8,150.22 446.3,150.81 446.8,150.83 447.3,150.86 447.8,150.88 448.3,150.83 448.8,150.78 449.3,150.73 449.8,150.57 450.3,150.41 450.8,150.25 451.3,150.38 451.8,150.51 452.3,150.63 452.8,150.66 453.3,150.69 453.8,150.72 454.3,150.57 454.8,150.42 455.3,150.26 455.8,150.44 456.3,150.62 456.8,150.80 457.3,150.82 457.8,150.84 458.3,150.86 458.8,150.74 459.3,150.62 459.8,150.50 460.3,150.54 460.8,150.58 461.3,150.62 461.8,150.61 462.3,150.59 462.8,150.58 463.3,150.22 463.8,149.86 464.3,149.50 464.8,149.80 465.3,150.10 465.8,150.39 466.3,150.47 466.8,150.54 467.3,150.62 467.8,150.68 468.3,150.73 468.8,150.79 469.3,150.65 469.8,150.52 470.3,150.38 470.8,150.14 471.3,149.90 471.8,149.67 472.3,149.65 472.8,149.62 473.3,149.60 473.8,149.00 474.3,148.40 474.8,147.81 475.3,148.80 475.8,149.79 476.3,150.78 476.8,150.73 477.3,150.68 477.8,150.63 478.3,150.45 478.8,150.27 479.3,150.10 479.8,150.06 480.3,150.02 480.8,149.98 481.3,150.05 481.8,150.12 482.3,150.19 482.8,150.23 483.3,150.28 483.8,150.32 484.3,150.15 484.8,149.97 485.3,149.80 485.8,150.07 486.3,150.34 486.8,150.61 487.3,150.71 487.8,150.80 488.3,150.89 488.8,150.73 489.3,150.57 489.8,150.42 490.3,150.56 490.8,150.70 491.3,150.84 491.8,150.82 492.3,150.81 492.8,150.79 493.3,150.13 493.8,149.48 494.3,148.82 494.8,149.44 495.3,150.06" fill="none" stroke="#e0952e" stroke-width="1.1" stroke-linejoin="round"/>
<polyline points="314.3,150.45 314.8,150.59 315.3,150.73 315.8,150.87 316.3,150.85 316.8,150.82 317.3,150.79 317.8,150.80 318.3,150.80 318.8,150.80 319.3,150.81 319.8,150.81 320.3,150.82 320.8,150.83 321.3,150.83 321.8,150.84 322.3,150.75 322.8,150.65 323.3,150.56 323.8,150.66 324.3,150.76 324.8,150.86 325.3,150.79 325.8,150.71 326.3,150.64 326.8,150.71 327.3,150.78 327.8,150.85 328.3,150.85 328.8,150.84 329.3,150.83 329.8,150.85 330.3,150.88 330.8,150.59 331.3,149.82 331.8,148.74 332.3,147.35 332.8,145.66 333.3,143.72 333.8,141.23 334.3,137.88 334.8,134.26 335.3,130.90 335.8,127.66 336.3,124.41 336.8,121.10 337.3,117.54 337.8,113.88 338.3,110.58 338.8,107.96 339.3,105.66 339.8,103.11 340.3,100.19 340.8,97.34 341.3,95.06 341.8,93.56 342.3,92.21 342.8,91.03 343.3,90.13 343.8,89.59 344.3,89.55 344.8,90.07 345.3,91.05 345.8,92.36 346.3,93.88 346.8,95.47 347.3,97.00 347.8,98.63 348.3,100.57 348.8,102.63 349.3,104.76 349.8,106.69 350.3,108.29 350.8,109.49 351.3,110.58 351.8,111.69 352.3,113.20 352.8,114.97 353.3,117.13 353.8,118.82 354.3,120.43 354.8,121.77 355.3,124.04 355.8,126.23 356.3,128.36 356.8,129.23 357.3,130.10 357.8,131.00 358.3,133.13 358.8,135.11 359.3,136.88 359.8,137.24 360.3,137.52 360.8,137.71 361.3,138.68 361.8,139.58 362.3,140.42 362.8,140.70 363.3,140.95 363.8,141.17 364.3,142.18 364.8,143.16 365.3,144.13 365.8,144.18 366.3,144.21 366.8,144.24 367.3,144.86 367.8,145.48 368.3,146.09 368.8,146.07 369.3,146.05 369.8,146.01 370.3,146.58 370.8,147.14 371.3,147.68 371.8,147.99 372.3,148.28 372.8,148.56 373.3,148.86 373.8,149.14 374.3,149.42 374.8,149.15 375.3,148.87 375.8,148.58 376.3,149.28 376.8,149.97 377.3,150.65 377.8,150.47 378.3,150.27 378.8,150.06 379.3,150.15 379.8,150.80 380.3,150.79 380.8,150.31 381.3,149.83 381.8,149.35 382.3,149.34 382.8,149.32 383.3,149.31 383.8,149.31 384.3,149.32 384.8,149.32 385.3,149.84 385.8,150.37 386.3,150.89 386.8,150.82 387.3,150.74 387.8,150.66 388.3,150.59 388.8,150.51 389.3,150.44 389.8,150.49 390.3,150.55 390.8,150.61 391.3,150.52 391.8,150.43 392.3,150.34 392.8,150.46 393.3,150.59 393.8,150.71 394.3,150.76 394.8,150.81 395.3,150.86 395.8,150.56 396.3,150.26 396.8,149.96 397.3,149.91 397.8,149.86 398.3,149.81 398.8,149.73 399.3,149.65 399.8,149.56 400.3,149.97 400.8,150.38 401.3,150.80 401.8,150.68 402.3,150.57 402.8,150.46 403.3,150.58 403.8,150.71 404.3,150.84 404.8,150.76 405.3,150.68 405.8,150.61 406.3,150.35 406.8,150.09 407.3,149.83 407.8,150.12 408.3,150.40 408.8,150.68 409.3,150.15 409.8,149.63 410.3,149.10 410.8,149.40 411.3,149.69 411.8,149.99 412.3,150.26 412.8,150.53 413.3,150.79 413.8,150.47 414.3,150.14 414.8,149.82 415.3,150.15 415.8,150.48 416.3,150.81 416.8,150.59 417.3,150.38 417.8,150.16 418.3,150.05 418.8,149.94 419.3,149.83 419.8,149.97 420.3,150.10 420.8,150.24 421.3,150.32 421.8,150.41 422.3,150.50 422.8,150.51 423.3,150.52 423.8,150.54 424.3,150.64 424.8,150.74 425.3,150.83 425.8,150.85 426.3,150.86 426.8,150.88 427.3,150.80 427.8,150.72 428.3,150.65 428.8,150.69 429.3,150.74 429.8,150.78 430.3,150.80 430.8,150.81 431.3,150.82 431.8,150.71 432.3,150.60 432.8,150.49 433.3,150.23 433.8,149.97 434.3,149.71 434.8,149.94 435.3,150.18 435.8,150.41 436.3,150.48 436.8,150.55 437.3,150.62 437.8,150.56 438.3,150.50 438.8,150.43 439.3,150.38 439.8,150.33 440.3,150.28 440.8,150.35 441.3,150.43 441.8,150.51 442.3,150.50 442.8,150.48 443.3,150.47 443.8,150.47 444.3,150.47 444.8,150.48 445.3,150.51 445.8,150.54 446.3,150.57 446.8,150.60 447.3,150.63 447.8,150.66 448.3,150.71 448.8,150.77 449.3,150.83 449.8,150.48 450.3,150.14 450.8,149.80 451.3,150.09 451.8,150.39 452.3,150.69 452.8,150.72 453.3,150.76 453.8,150.80 454.3,150.40 454.8,150.01 455.3,149.61 455.8,149.17 456.3,148.72 456.8,148.28 457.3,149.09 457.8,149.90 458.3,150.71 458.8,150.52 459.3,150.33 459.8,150.14 460.3,150.17 460.8,150.20 461.3,150.23 461.8,150.44 462.3,150.64 462.8,150.84 463.3,150.73 463.8,150.62 464.3,150.50 464.8,150.63 465.3,150.76 465.8,150.90 466.3,150.89 466.8,150.89 467.3,150.89 467.8,150.78 468.3,150.67 468.8,150.56 469.3,150.62 469.8,150.68 470.3,150.73 470.8,150.69 471.3,150.64 471.8,150.59 472.3,150.53 472.8,150.48 473.3,150.43 473.8,150.18 474.3,149.93 474.8,149.68 475.3,149.92 475.8,150.17 476.3,150.41 476.8,150.55 477.3,150.69 477.8,150.83 478.3,150.66 478.8,150.49 479.3,150.32 479.8,150.51 480.3,150.70 480.8,150.89 481.3,150.82 481.8,150.75 482.3,150.68 482.8,150.48 483.3,150.28 483.8,150.08 484.3,149.86 484.8,149.64 485.3,149.42 485.8,149.17 486.3,148.92 486.8,148.67 487.3,149.09 487.8,149.52 488.3,149.94 488.8,149.96 489.3,149.97 489.8,149.99 490.3,149.85 490.8,149.71 491.3,149.57 491.8,149.96 492.3,150.35 492.8,150.74 493.3,150.62 493.8,150.51 494.3,150.39 494.8,150.39 495.3,150.39" fill="none" stroke="#6c4a8e" stroke-width="1.1" stroke-linejoin="round"/>
<polyline points="314.3,150.57 314.8,150.61 315.3,150.65 315.8,150.69 316.3,150.62 316.8,150.56 317.3,150.49 317.8,150.62 318.3,150.74 318.8,150.86 319.3,150.84 319.8,150.82 320.3,150.80 320.8,150.74 321.3,150.67 321.8,150.61 322.3,150.57 322.8,150.52 323.3,150.48 323.8,150.58 324.3,150.68 324.8,150.79 325.3,150.80 325.8,150.82 326.3,150.83 326.8,150.74 327.3,150.65 327.8,150.56 328.3,150.66 328.8,150.76 329.3,150.86 329.8,150.81 330.3,150.75 330.8,150.70 331.3,150.76 331.8,150.83 332.3,150.89 332.8,150.89 333.3,150.51 333.8,149.85 334.3,148.81 334.8,147.37 335.3,145.64 335.8,143.70 336.3,141.37 336.8,138.35 337.3,135.12 337.8,132.20 338.3,129.59 338.8,127.03 339.3,124.64 339.8,122.52 340.3,120.78 340.8,119.27 341.3,117.86 341.8,116.58 342.3,115.43 342.8,114.43 343.3,113.59 343.8,112.90 344.3,112.27 344.8,111.72 345.3,111.24 345.8,110.85 346.3,110.54 346.8,110.27 347.3,110.01 347.8,109.80 348.3,109.65 348.8,109.60 349.3,109.68 349.8,109.91 350.3,110.25 350.8,110.67 351.3,111.13 351.8,111.60 352.3,112.16 352.8,112.87 353.3,113.69 353.8,114.53 354.3,115.42 354.8,116.30 355.3,117.20 355.8,118.16 356.3,119.16 356.8,120.12 357.3,121.06 357.8,121.98 358.3,123.33 358.8,124.67 359.3,126.02 359.8,126.74 360.3,127.46 360.8,128.18 361.3,129.36 361.8,130.56 362.3,131.76 362.8,132.26 363.3,132.71 363.8,133.07 364.3,134.52 364.8,135.96 365.3,137.37 365.8,137.91 366.3,138.42 366.8,138.88 367.3,139.99 367.8,141.05 368.3,142.05 368.8,142.00 369.3,141.92 369.8,141.81 370.3,142.30 370.8,142.77 371.3,143.22 371.8,143.62 372.3,144.01 372.8,144.39 373.3,144.55 373.8,144.70 374.3,144.84 374.8,145.04 375.3,145.23 375.8,145.41 376.3,146.02 376.8,146.62 377.3,147.20 377.8,147.29 378.3,147.36 378.8,147.42 379.3,147.84 379.8,148.24 380.3,148.63 380.8,148.55 381.3,148.46 381.8,148.36 382.3,148.66 382.8,148.96 383.3,149.26 383.8,148.97 384.3,148.67 384.8,148.38 385.3,148.92 385.8,149.46 386.3,150.00 386.8,149.86 387.3,149.72 387.8,149.57 388.3,149.82 388.8,150.06 389.3,150.30 389.8,150.24 390.3,150.18 390.8,150.11 391.3,149.88 391.8,149.64 392.3,150.07 392.8,150.02 393.3,149.96 393.8,149.90 394.3,150.23 394.8,150.56 395.3,150.89 395.8,150.81 396.3,150.74 396.8,150.66 397.3,150.73 397.8,150.80 398.3,150.87 398.8,150.81 399.3,150.74 399.8,150.67 400.3,150.42 400.8,150.17 401.3,149.92 401.8,149.81 402.3,149.70 402.8,149.59 403.3,149.96 403.8,150.34 404.3,150.71 404.8,150.64 405.3,150.56 405.8,150.49 406.3,150.15 406.8,149.82 407.3,149.48 407.8,149.90 408.3,150.31 408.8,150.73 409.3,150.62 409.8,150.52 410.3,150.41 410.8,150.45 411.3,150.50 411.8,150.54 412.3,150.44 412.8,150.35 413.3,150.25 413.8,150.42 414.3,150.59 414.8,150.76 415.3,150.41 415.8,150.06 416.3,149.71 416.8,149.86 417.3,150.01 417.8,150.16 418.3,150.31 418.8,150.47 419.3,150.63 419.8,150.56 420.3,150.49 420.8,150.42 421.3,150.29 421.8,150.15 422.3,150.01 422.8,150.22 423.3,150.43 423.8,150.64 424.3,150.58 424.8,150.51 425.3,150.45 425.8,150.41 426.3,150.37 426.8,150.33 427.3,150.33 427.8,150.33 428.3,150.33 428.8,150.41 429.3,150.50 429.8,150.59 430.3,150.67 430.8,150.76 431.3,150.84 431.8,150.42 432.3,150.01 432.8,149.59 433.3,149.89 433.8,150.18 434.3,150.48 434.8,150.56 435.3,150.64 435.8,150.73 436.3,150.56 436.8,150.40 437.3,150.24 437.8,150.06 438.3,149.88 438.8,149.70 439.3,150.05 439.8,150.39 440.3,150.73 440.8,150.73 441.3,150.72 441.8,150.72 442.3,150.34 442.8,149.97 443.3,149.59 443.8,149.91 444.3,150.23 444.8,150.55 445.3,150.22 445.8,149.89 446.3,149.55 446.8,149.61 447.3,149.66 447.8,149.72 448.3,150.08 448.8,150.44 449.3,150.80 449.8,150.75 450.3,150.69 450.8,150.64 451.3,150.65 451.8,150.67 452.3,150.68 452.8,150.73 453.3,150.79 453.8,150.84 454.3,150.75 454.8,150.66 455.3,150.57 455.8,150.51 456.3,150.45 456.8,150.39 457.3,150.53 457.8,150.68 458.3,150.83 458.8,150.83 459.3,150.83 459.8,150.82 460.3,150.54 460.8,150.26 461.3,149.98 461.8,150.21 462.3,150.44 462.8,150.67 463.3,150.48 463.8,150.29 464.3,150.10 464.8,150.31 465.3,150.52 465.8,150.73 466.3,150.59 466.8,150.45 467.3,150.31 467.8,150.36 468.3,150.40 468.8,150.44 469.3,150.45 469.8,150.46 470.3,150.46 470.8,150.56 471.3,150.65 471.8,150.74 472.3,150.65 472.8,150.55 473.3,150.45 473.8,150.57 474.3,150.69 474.8,150.81 475.3,150.72 475.8,150.62 476.3,150.52 476.8,150.60 477.3,150.67 477.8,150.74 478.3,150.62 478.8,150.50 479.3,150.39 479.8,150.52 480.3,150.66 480.8,150.80 481.3,150.75 481.8,150.69 482.3,150.64 482.8,150.18 483.3,149.73 483.8,149.28 484.3,149.53 484.8,149.78 485.3,150.03 485.8,150.03 486.3,150.03 486.8,150.03 487.3,150.29 487.8,150.56 488.3,150.82 488.8,150.83 489.3,150.84 489.8,150.85 490.3,150.81 490.8,150.78 491.3,150.75 491.8,150.61 492.3,150.46 492.8,150.32 493.3,150.37 493.8,150.42 494.3,150.46 494.8,150.06 495.3,149.65" fill="none" stroke="#72b84c" stroke-width="1.1" stroke-linejoin="round"/>
<polyline points="314.3,150.78 314.8,150.79 315.3,150.80 315.8,150.80 316.3,150.80 316.8,150.79 317.3,150.79 317.8,150.63 318.3,150.48 318.8,150.32 319.3,150.45 319.8,150.59 320.3,150.72 320.8,150.56 321.3,150.41 321.8,150.25 322.3,150.46 322.8,150.66 323.3,150.86 323.8,150.79 324.3,150.71 324.8,150.63 325.3,150.57 325.8,150.51 326.3,150.45 326.8,150.60 327.3,150.74 327.8,150.89 328.3,150.84 328.8,150.79 329.3,150.75 329.8,150.73 330.3,150.72 330.8,150.71 331.3,150.77 331.8,150.74 332.3,150.61 332.8,150.40 333.3,150.15 333.8,149.88 334.3,149.57 334.8,149.22 335.3,148.84 335.8,148.43 336.3,148.00 336.8,147.53 337.3,147.01 337.8,146.42 338.3,145.75 338.8,144.91 339.3,143.82 339.8,142.57 340.3,141.23 340.8,139.90 341.3,138.66 341.8,137.42 342.3,136.16 342.8,134.91 343.3,133.71 343.8,132.61 344.3,131.61 344.8,130.63 345.3,129.68 345.8,128.79 346.3,127.98 346.8,127.27 347.3,126.70 347.8,126.22 348.3,125.76 348.8,125.34 349.3,124.95 349.8,124.60 350.3,124.28 350.8,124.01 351.3,123.78 351.8,123.60 352.3,123.44 352.8,123.29 353.3,123.15 353.8,123.03 354.3,122.92 354.8,122.85 355.3,122.81 355.8,122.80 356.3,122.85 356.8,122.93 357.3,123.06 357.8,123.20 358.3,123.39 358.8,123.58 359.3,123.78 359.8,123.91 360.3,124.04 360.8,124.18 361.3,124.47 361.8,124.78 362.3,125.10 362.8,125.18 363.3,125.26 363.8,125.37 364.3,125.78 364.8,126.21 365.3,126.68 365.8,127.11 366.3,127.58 366.8,128.06 367.3,128.64 367.8,129.24 368.3,129.84 368.8,130.24 369.3,130.64 369.8,131.03 370.3,131.58 370.8,132.15 371.3,132.72 371.8,132.92 372.3,133.13 372.8,133.35 373.3,134.05 373.8,134.76 374.3,135.46 374.8,135.87 375.3,136.30 375.8,136.75 376.3,137.56 376.8,138.37 377.3,139.18 377.8,139.31 378.3,139.41 378.8,139.48 379.3,140.28 379.8,141.04 380.3,141.75 380.8,141.75 381.3,141.72 381.8,141.68 382.3,142.29 382.8,142.90 383.3,143.49 383.8,143.56 384.3,143.62 384.8,143.69 385.3,144.30 385.8,144.91 386.3,145.53 386.8,145.34 387.3,145.15 387.8,144.96 388.3,145.39 388.8,145.80 389.3,146.21 389.8,146.43 390.3,146.64 390.8,146.83 391.3,147.17 391.8,147.50 392.3,147.82 392.8,147.88 393.3,147.93 393.8,147.99 394.3,148.27 394.8,148.55 395.3,148.83 395.8,148.83 396.3,148.82 396.8,148.80 397.3,148.97 397.8,149.14 398.3,149.30 398.8,149.21 399.3,149.12 399.8,149.02 400.3,149.31 400.8,149.59 401.3,149.87 401.8,149.67 402.3,149.47 402.8,149.27 403.3,149.66 403.8,150.06 404.3,150.45 404.8,150.13 405.3,149.81 405.8,149.49 406.3,149.91 406.8,150.32 407.3,150.72 407.8,150.55 408.3,150.38 408.8,150.21 409.3,150.18 409.8,150.16 410.3,150.51 410.8,150.30 411.3,150.09 411.8,149.88 412.3,150.17 412.8,150.47 413.3,150.76 413.8,150.77 414.3,150.78 414.8,150.79 415.3,150.81 415.8,150.83 416.3,150.84 416.8,150.77 417.3,150.70 417.8,150.63 418.3,150.56 418.8,150.49 419.3,150.42 419.8,150.52 420.3,150.63 420.8,150.74 421.3,150.58 421.8,150.42 422.3,150.26 422.8,150.47 423.3,150.68 423.8,150.89 424.3,150.61 424.8,150.34 425.3,150.06 425.8,150.33 426.3,150.60 426.8,150.87 427.3,150.72 427.8,150.58 428.3,150.43 428.8,150.44 429.3,150.45 429.8,150.45 430.3,150.51 430.8,150.57 431.3,150.63 431.8,150.69 432.3,150.75 432.8,150.81 433.3,150.83 433.8,150.86 434.3,150.88 434.8,150.64 435.3,150.40 435.8,150.17 436.3,150.36 436.8,150.54 437.3,150.73 437.8,150.63 438.3,150.54 438.8,150.44 439.3,150.51 439.8,150.57 440.3,150.64 440.8,150.70 441.3,150.77 441.8,150.84 442.3,150.82 442.8,150.81 443.3,150.80 443.8,150.73 444.3,150.65 444.8,150.58 445.3,150.64 445.8,150.71 446.3,150.77 446.8,150.73 447.3,150.70 447.8,150.67 448.3,150.25 448.8,149.83 449.3,149.41 449.8,149.63 450.3,149.85 450.8,150.07 451.3,150.33 451.8,150.58 452.3,150.84 452.8,150.69 453.3,150.54 453.8,150.39 454.3,149.87 454.8,149.36 455.3,148.84 455.8,148.91 456.3,148.98 456.8,149.05 457.3,149.43 457.8,149.82 458.3,150.20 458.8,149.93 459.3,149.65 459.8,149.38 460.3,149.05 460.8,148.72 461.3,148.39 461.8,148.81 462.3,149.23 462.8,149.65 463.3,149.90 463.8,150.16 464.3,150.41 464.8,150.52 465.3,150.62 465.8,150.73 466.3,150.55 466.8,150.37 467.3,150.19 467.8,150.22 468.3,150.25 468.8,150.28 469.3,150.45 469.8,150.62 470.3,150.79 470.8,150.11 471.3,149.43 471.8,148.76 472.3,149.21 472.8,149.66 473.3,150.11 473.8,150.34 474.3,150.56 474.8,150.79 475.3,150.77 475.8,150.76 476.3,150.74 476.8,150.59 477.3,150.44 477.8,150.29 478.3,150.15 478.8,150.00 479.3,149.86 479.8,150.06 480.3,150.25 480.8,150.45 481.3,150.52 481.8,150.59 482.3,150.65 482.8,150.71 483.3,150.76 483.8,150.82 484.3,150.79 484.8,150.77 485.3,150.75 485.8,150.75 486.3,150.75 486.8,150.75 487.3,150.75 487.8,150.75 488.3,150.75 488.8,150.79 489.3,150.84 489.8,150.89 490.3,150.64 490.8,150.39 491.3,150.15 491.8,150.39 492.3,150.64 492.8,150.89 493.3,150.41 493.8,149.94 494.3,149.47 494.8,149.82 495.3,150.16" fill="none" stroke="#a6203f" stroke-width="1.1" stroke-linejoin="round"/>
<polyline points="314.3,150.80 314.8,150.81 315.3,150.82 315.8,150.83 316.3,150.80 316.8,150.78 317.3,150.76 317.8,150.77 318.3,150.79 318.8,150.81 319.3,150.81 319.8,150.82 320.3,150.82 320.8,150.75 321.3,150.68 321.8,150.60 322.3,150.59 322.8,150.58 323.3,150.57 323.8,150.64 324.3,150.72 324.8,150.80 325.3,150.73 325.8,150.67 326.3,150.61 326.8,150.66 327.3,150.71 327.8,150.76 328.3,150.74 328.8,150.72 329.3,150.70 329.8,150.75 330.3,150.79 330.8,150.84 331.3,150.46 331.8,150.08 332.3,149.70 332.8,150.07 333.3,150.45 333.8,150.82 334.3,150.73 334.8,150.63 335.3,150.54 335.8,150.66 336.3,150.74 336.8,150.78 337.3,150.70 337.8,150.62 338.3,150.52 338.8,150.42 339.3,150.32 339.8,150.21 340.3,150.09 340.8,149.98 341.3,149.85 341.8,149.71 342.3,149.57 342.8,149.42 343.3,149.26 343.8,149.10 344.3,148.93 344.8,148.75 345.3,148.57 345.8,148.38 346.3,148.19 346.8,148.00 347.3,147.80 347.8,147.59 348.3,147.35 348.8,147.10 349.3,146.83 349.8,146.56 350.3,146.28 350.8,145.99 351.3,145.71 351.8,145.43 352.3,145.17 352.8,144.92 353.3,144.69 353.8,144.48 354.3,144.30 354.8,144.14 355.3,143.98 355.8,143.83 356.3,143.68 356.8,143.54 357.3,143.41 357.8,143.28 358.3,143.16 358.8,143.05 359.3,142.95 359.8,142.85 360.3,142.76 360.8,142.68 361.3,142.61 361.8,142.53 362.3,142.45 362.8,142.38 363.3,142.30 363.8,142.24 364.3,142.17 364.8,142.12 365.3,142.07 365.8,142.04 366.3,142.01 366.8,142.00 367.3,142.00 367.8,142.01 368.3,142.02 368.8,142.03 369.3,142.05 369.8,142.08 370.3,142.13 370.8,142.19 371.3,142.25 371.8,142.20 372.3,142.15 372.8,142.10 373.3,142.18 373.8,142.27 374.3,142.37 374.8,142.31 375.3,142.26 375.8,142.22 376.3,142.45 376.8,142.69 377.3,142.93 377.8,142.93 378.3,142.93 378.8,142.93 379.3,143.18 379.8,143.43 380.3,143.68 380.8,143.64 381.3,143.59 381.8,143.56 382.3,143.70 382.8,143.84 383.3,143.99 383.8,143.99 384.3,144.00 384.8,144.00 385.3,144.21 385.8,144.43 386.3,144.64 386.8,144.57 387.3,144.51 387.8,144.45 388.3,144.82 388.8,145.18 389.3,145.56 389.8,145.56 390.3,145.56 390.8,145.56 391.3,145.66 391.8,145.75 392.3,145.84 392.8,146.00 393.3,146.15 393.8,146.29 394.3,146.57 394.8,146.84 395.3,147.11 395.8,147.05 396.3,146.99 396.8,146.92 397.3,147.07 397.8,147.22 398.3,147.36 398.8,147.19 399.3,147.02 399.8,146.85 400.3,147.10 400.8,147.35 401.3,147.60 401.8,147.57 402.3,147.53 402.8,147.50 403.3,147.79 403.8,148.07 404.3,148.35 404.8,148.19 405.3,148.04 405.8,147.88 406.3,148.17 406.8,148.47 407.3,148.76 407.8,148.56 408.3,148.36 408.8,148.16 409.3,148.36 409.8,148.55 410.3,148.74 410.8,148.77 411.3,148.80 411.8,148.83 412.3,148.97 412.8,149.11 413.3,149.25 413.8,149.14 414.3,149.03 414.8,148.92 415.3,149.06 415.8,149.21 416.3,149.35 416.8,149.27 417.3,149.20 417.8,149.12 418.3,149.40 418.8,149.68 419.3,149.95 419.8,149.61 420.3,149.27 420.8,148.93 421.3,149.29 421.8,149.65 422.3,150.01 422.8,149.84 423.3,149.68 423.8,149.51 424.3,149.75 424.8,150.00 425.3,150.25 425.8,150.08 426.3,149.92 426.8,149.75 427.3,149.87 427.8,149.98 428.3,150.10 428.8,149.97 429.3,149.84 429.8,149.71 430.3,149.96 430.8,150.22 431.3,150.47 431.8,150.38 432.3,150.29 432.8,150.20 433.3,150.33 433.8,150.47 434.3,150.61 434.8,150.44 435.3,150.28 435.8,150.11 436.3,150.64 436.8,150.77 437.3,150.89 437.8,150.87 438.3,150.85 438.8,150.83 439.3,150.83 439.8,150.84 440.3,150.84 440.8,150.77 441.3,150.70 441.8,150.62 442.3,150.67 442.8,150.72 443.3,150.77 443.8,150.73 444.3,150.69 444.8,150.66 445.3,150.70 445.8,150.74 446.3,150.79 446.8,150.76 447.3,150.72 447.8,150.69 448.3,150.68 448.8,150.67 449.3,150.66 449.8,150.55 450.3,150.43 450.8,150.32 451.3,150.34 451.8,150.36 452.3,150.39 452.8,150.53 453.3,150.68 453.8,150.83 454.3,150.84 454.8,150.85 455.3,150.86 455.8,150.86 456.3,150.87 456.8,150.88 457.3,150.88 457.8,150.88 458.3,150.88 458.8,150.76 459.3,150.65 459.8,150.53 460.3,150.64 460.8,150.75 461.3,150.87 461.8,150.85 462.3,150.83 462.8,150.82 463.3,150.75 463.8,150.69 464.3,150.62 464.8,150.58 465.3,150.55 465.8,150.51 466.3,150.54 466.8,150.56 467.3,150.59 467.8,150.57 468.3,150.55 468.8,150.53 469.3,150.46 469.8,150.39 470.3,150.32 470.8,150.32 471.3,150.32 471.8,150.32 472.3,150.49 472.8,150.65 473.3,150.81 473.8,150.83 474.3,150.85 474.8,150.88 475.3,150.88 475.8,150.88 476.3,150.89 476.8,150.86 477.3,150.83 477.8,150.80 478.3,150.81 478.8,150.81 479.3,150.81 479.8,150.72 480.3,150.63 480.8,150.54 481.3,150.49 481.8,150.44 482.3,150.39 482.8,150.48 483.3,150.57 483.8,150.66 484.3,150.59 484.8,150.52 485.3,150.45 485.8,150.49 486.3,150.54 486.8,150.58 487.3,150.61 487.8,150.63 488.3,150.66 488.8,150.72 489.3,150.78 489.8,150.84 490.3,150.82 490.8,150.80 491.3,150.77 491.8,150.65 492.3,150.52 492.8,150.40 493.3,150.56 493.8,150.72 494.3,150.88 494.8,150.73 495.3,150.57" fill="none" stroke="#3c5c96" stroke-width="1.1" stroke-linejoin="round"/>
<polyline points="314.3,150.84 314.8,150.84 315.3,150.85 315.8,150.85 316.3,150.33 316.8,149.82 317.3,149.30 317.8,149.74 318.3,150.18 318.8,150.61 319.3,150.28 319.8,149.94 320.3,149.60 320.8,149.95 321.3,150.30 321.8,150.65 322.3,150.69 322.8,150.72 323.3,150.75 323.8,150.77 324.3,150.79 324.8,150.80 325.3,150.40 325.8,150.00 326.3,149.60 326.8,149.98 327.3,150.36 327.8,150.74 328.3,150.77 328.8,150.80 329.3,150.83 329.8,150.80 330.3,150.77 330.8,150.74 331.3,150.78 331.8,150.81 332.3,150.85 332.8,150.86 333.3,150.78 333.8,150.61 334.3,150.40 334.8,150.17 335.3,149.91 335.8,149.63 336.3,149.34 336.8,149.02 337.3,148.67 337.8,148.30 338.3,147.89 338.8,147.46 339.3,147.01 339.8,146.53 340.3,146.02 340.8,145.49 341.3,144.90 341.8,144.23 342.3,143.51 342.8,142.76 343.3,141.98 343.8,141.21 344.3,140.44 344.8,139.71 345.3,138.97 345.8,138.23 346.3,137.49 346.8,136.75 347.3,136.01 347.8,135.27 348.3,134.54 348.8,133.81 349.3,133.03 349.8,132.23 350.3,131.43 350.8,130.65 351.3,129.90 351.8,129.21 352.3,128.59 352.8,128.06 353.3,127.64 353.8,127.24 354.3,126.85 354.8,126.47 355.3,126.12 355.8,125.81 356.3,125.53 356.8,125.30 357.3,125.13 357.8,125.03 358.3,124.99 358.8,124.97 359.3,124.95 359.8,124.93 360.3,124.92 360.8,124.91 361.3,124.90 361.8,124.90 362.3,124.92 362.8,124.99 363.3,125.12 363.8,125.28 364.3,125.48 364.8,125.70 365.3,125.94 365.8,126.18 366.3,126.42 366.8,126.66 367.3,126.93 367.8,127.22 368.3,127.54 368.8,127.79 369.3,128.07 369.8,128.36 370.3,128.81 370.8,129.28 371.3,129.75 371.8,129.94 372.3,130.13 372.8,130.32 373.3,130.89 373.8,131.46 374.3,132.06 374.8,132.38 375.3,132.70 375.8,133.04 376.3,133.59 376.8,134.14 377.3,134.70 377.8,135.00 378.3,135.29 378.8,135.57 379.3,136.18 379.8,136.77 380.3,137.36 380.8,137.64 381.3,137.91 381.8,138.17 382.3,138.68 382.8,139.18 383.3,139.68 383.8,140.00 384.3,140.32 384.8,140.64 385.3,141.06 385.8,141.47 386.3,141.87 386.8,142.05 387.3,142.20 387.8,142.32 388.3,142.76 388.8,143.17 389.3,143.57 389.8,143.76 390.3,143.93 390.8,144.09 391.3,144.34 391.8,144.57 392.3,144.80 392.8,144.79 393.3,144.78 393.8,144.75 394.3,145.05 394.8,145.35 395.3,145.64 395.8,145.71 396.3,145.79 396.8,145.86 397.3,146.12 397.8,146.38 398.3,146.63 398.8,146.63 399.3,146.64 399.8,146.63 400.3,146.86 400.8,147.08 401.3,147.30 401.8,147.21 402.3,147.13 402.8,147.04 403.3,147.37 403.8,147.69 404.3,148.01 404.8,147.97 405.3,147.93 405.8,147.88 406.3,147.97 406.8,148.05 407.3,148.12 407.8,148.21 408.3,148.29 408.8,148.37 409.3,148.49 409.8,148.62 410.3,148.74 410.8,148.72 411.3,148.69 411.8,148.67 412.3,148.79 412.8,148.91 413.3,149.03 413.8,148.97 414.3,148.90 414.8,148.84 415.3,149.04 415.8,149.25 416.3,149.46 416.8,149.41 417.3,149.37 417.8,149.32 418.3,149.53 418.8,149.74 419.3,149.94 419.8,149.82 420.3,149.69 420.8,149.56 421.3,149.73 421.8,149.90 422.3,150.07 422.8,150.10 423.3,150.13 423.8,150.16 424.3,150.26 424.8,150.35 425.3,150.45 425.8,150.42 426.3,150.97 426.8,150.90 427.3,150.71 427.8,150.53 428.3,150.35 428.8,150.43 429.3,150.52 429.8,150.60 430.3,150.68 430.8,150.76 431.3,150.84 431.8,150.79 432.3,150.73 432.8,150.68 433.3,150.72 433.8,150.77 434.3,150.81 434.8,150.83 435.3,150.86 435.8,150.88 436.3,150.61 436.8,150.34 437.3,150.07 437.8,150.33 438.3,150.58 438.8,150.83 439.3,150.74 439.8,150.65 440.3,150.56 440.8,150.63 441.3,150.70 441.8,150.77 442.3,150.54 442.8,150.31 443.3,150.08 443.8,150.23 444.3,150.39 444.8,150.55 445.3,150.62 445.8,150.69 446.3,150.76 446.8,150.72 447.3,150.67 447.8,150.62 448.3,150.66 448.8,150.70 449.3,150.73 449.8,150.65 450.3,150.56 450.8,150.48 451.3,150.60 451.8,150.72 452.3,150.85 452.8,150.76 453.3,150.66 453.8,150.57 454.3,150.66 454.8,150.75 455.3,150.84 455.8,150.67 456.3,150.50 456.8,150.33 457.3,150.50 457.8,150.68 458.3,150.86 458.8,150.86 459.3,150.87 459.8,150.88 460.3,150.85 460.8,150.82 461.3,150.79 461.8,150.78 462.3,150.76 462.8,150.74 463.3,150.79 463.8,150.84 464.3,150.90 464.8,150.88 465.3,150.86 465.8,150.84 466.3,150.81 466.8,150.78 467.3,150.75 467.8,150.78 468.3,150.81 468.8,150.84 469.3,150.75 469.8,150.67 470.3,150.59 470.8,150.54 471.3,150.49 471.8,150.44 472.3,150.43 472.8,150.42 473.3,150.41 473.8,150.55 474.3,150.69 474.8,150.82 475.3,150.78 475.8,150.74 476.3,150.70 476.8,150.76 477.3,150.81 477.8,150.87 478.3,150.81 478.8,150.75 479.3,150.69 479.8,150.73 480.3,150.76 480.8,150.79 481.3,150.82 481.8,150.84 482.3,150.87 482.8,150.76 483.3,150.65 483.8,150.53 484.3,150.60 484.8,150.66 485.3,150.72 485.8,150.67 486.3,150.61 486.8,150.55 487.3,150.51 487.8,150.47 488.3,150.43 488.8,150.58 489.3,150.72 489.8,150.87 490.3,150.87 490.8,150.87 491.3,150.86 491.8,150.82 492.3,150.78 492.8,150.74 493.3,150.54 493.8,150.34 494.3,150.14 494.8,150.33 495.3,150.52" fill="none" stroke="#3c5c96" stroke-width="1.1" stroke-linejoin="round" stroke-dasharray="3.2 2.2"/>
<line x1="314.30" y1="27.00" x2="314.30" y2="151.40" stroke="#231f20" stroke-width="1.2"/>
<line x1="310.60" y1="150.90" x2="314.30" y2="150.90" stroke="#231f20" stroke-width="1.0"/>
<text x="307.60" y="153.85" font-size="8.3" text-anchor="end">0</text>
<line x1="310.60" y1="120.75" x2="314.30" y2="120.75" stroke="#231f20" stroke-width="1.0"/>
<text x="307.60" y="123.70" font-size="8.3" text-anchor="end">100</text>
<line x1="310.60" y1="90.60" x2="314.30" y2="90.60" stroke="#231f20" stroke-width="1.0"/>
<text x="307.60" y="93.55" font-size="8.3" text-anchor="end">200</text>
<line x1="310.60" y1="60.45" x2="314.30" y2="60.45" stroke="#231f20" stroke-width="1.0"/>
<text x="307.60" y="63.40" font-size="8.3" text-anchor="end">300</text>
<line x1="310.60" y1="30.30" x2="314.30" y2="30.30" stroke="#231f20" stroke-width="1.0"/>
<text x="307.60" y="33.25" font-size="8.3" text-anchor="end">400</text>
<line x1="313.80" y1="150.90" x2="498.70" y2="150.90" stroke="#231f20" stroke-width="1.2"/>
<line x1="314.30" y1="150.90" x2="314.30" y2="154.60" stroke="#231f20" stroke-width="1.0"/>
<text x="314.30" y="165.60" font-size="8.3" text-anchor="middle">0</text>
<line x1="320.33" y1="150.90" x2="320.33" y2="152.70" stroke="#231f20" stroke-width="0.9"/>
<line x1="326.36" y1="150.90" x2="326.36" y2="152.70" stroke="#231f20" stroke-width="0.9"/>
<line x1="332.39" y1="150.90" x2="332.39" y2="152.70" stroke="#231f20" stroke-width="0.9"/>
<line x1="338.42" y1="150.90" x2="338.42" y2="152.70" stroke="#231f20" stroke-width="0.9"/>
<line x1="344.45" y1="150.90" x2="344.45" y2="152.70" stroke="#231f20" stroke-width="0.9"/>
<line x1="350.48" y1="150.90" x2="350.48" y2="152.70" stroke="#231f20" stroke-width="0.9"/>
<line x1="356.51" y1="150.90" x2="356.51" y2="152.70" stroke="#231f20" stroke-width="0.9"/>
<line x1="362.54" y1="150.90" x2="362.54" y2="152.70" stroke="#231f20" stroke-width="0.9"/>
<line x1="368.57" y1="150.90" x2="368.57" y2="152.70" stroke="#231f20" stroke-width="0.9"/>
<line x1="374.60" y1="150.90" x2="374.60" y2="154.60" stroke="#231f20" stroke-width="1.0"/>
<text x="374.60" y="165.60" font-size="8.3" text-anchor="middle">20</text>
<line x1="380.63" y1="150.90" x2="380.63" y2="152.70" stroke="#231f20" stroke-width="0.9"/>
<line x1="386.66" y1="150.90" x2="386.66" y2="152.70" stroke="#231f20" stroke-width="0.9"/>
<line x1="392.69" y1="150.90" x2="392.69" y2="152.70" stroke="#231f20" stroke-width="0.9"/>
<line x1="398.72" y1="150.90" x2="398.72" y2="152.70" stroke="#231f20" stroke-width="0.9"/>
<line x1="404.75" y1="150.90" x2="404.75" y2="152.70" stroke="#231f20" stroke-width="0.9"/>
<line x1="410.78" y1="150.90" x2="410.78" y2="152.70" stroke="#231f20" stroke-width="0.9"/>
<line x1="416.81" y1="150.90" x2="416.81" y2="152.70" stroke="#231f20" stroke-width="0.9"/>
<line x1="422.84" y1="150.90" x2="422.84" y2="152.70" stroke="#231f20" stroke-width="0.9"/>
<line x1="428.87" y1="150.90" x2="428.87" y2="152.70" stroke="#231f20" stroke-width="0.9"/>
<line x1="434.90" y1="150.90" x2="434.90" y2="154.60" stroke="#231f20" stroke-width="1.0"/>
<text x="434.90" y="165.60" font-size="8.3" text-anchor="middle">40</text>
<line x1="440.93" y1="150.90" x2="440.93" y2="152.70" stroke="#231f20" stroke-width="0.9"/>
<line x1="446.96" y1="150.90" x2="446.96" y2="152.70" stroke="#231f20" stroke-width="0.9"/>
<line x1="452.99" y1="150.90" x2="452.99" y2="152.70" stroke="#231f20" stroke-width="0.9"/>
<line x1="459.02" y1="150.90" x2="459.02" y2="152.70" stroke="#231f20" stroke-width="0.9"/>
<line x1="465.05" y1="150.90" x2="465.05" y2="152.70" stroke="#231f20" stroke-width="0.9"/>
<line x1="471.08" y1="150.90" x2="471.08" y2="152.70" stroke="#231f20" stroke-width="0.9"/>
<line x1="477.11" y1="150.90" x2="477.11" y2="152.70" stroke="#231f20" stroke-width="0.9"/>
<line x1="483.14" y1="150.90" x2="483.14" y2="152.70" stroke="#231f20" stroke-width="0.9"/>
<line x1="489.17" y1="150.90" x2="489.17" y2="152.70" stroke="#231f20" stroke-width="0.9"/>
<line x1="495.20" y1="150.90" x2="495.20" y2="154.60" stroke="#231f20" stroke-width="1.0"/>
<text x="495.20" y="165.60" font-size="8.3" text-anchor="middle">60</text>
<line x1="369.20" y1="30.50" x2="382.90" y2="30.50" stroke="#3c5c96" stroke-width="1.3" stroke-dasharray="3.3 2.8" stroke-dashoffset="1.2"/>
<text x="386.00" y="33.30" font-size="8.7" textLength="51.3" lengthAdjust="spacingAndGlyphs">Pooled plasma</text>
<line x1="369.20" y1="44.50" x2="382.90" y2="44.50" stroke="#3c5c96" stroke-width="1.3"/>
<text x="386.00" y="47.04" font-size="8.7" textLength="43.4" lengthAdjust="spacingAndGlyphs">+ Moab aFXI</text>
<line x1="369.20" y1="58.50" x2="382.90" y2="58.50" stroke="#a6203f" stroke-width="1.3"/>
<text x="386.00" y="60.78" font-size="8.7" textLength="110.0" lengthAdjust="spacingAndGlyphs">+ Moab aFXI + 0.63 &#956;g/ml FIX B</text>
<line x1="369.20" y1="71.50" x2="382.90" y2="71.50" stroke="#72b84c" stroke-width="1.3"/>
<text x="386.00" y="74.52" font-size="8.7" textLength="110.0" lengthAdjust="spacingAndGlyphs">+ Moab aFXI + 1.25 &#956;g/ml FIX B</text>
<line x1="369.20" y1="85.50" x2="382.90" y2="85.50" stroke="#6c4a8e" stroke-width="1.3"/>
<text x="386.00" y="88.26" font-size="8.7" textLength="105.9" lengthAdjust="spacingAndGlyphs">+ Moab aFXI + 2.5 &#956;g/ml FIX B</text>
<line x1="369.20" y1="99.50" x2="382.90" y2="99.50" stroke="#e0952e" stroke-width="1.3"/>
<text x="386.00" y="102.00" font-size="8.7" textLength="105.9" lengthAdjust="spacingAndGlyphs">+ Moab aFXI + 5.0 &#956;g/ml FIX B</text>
<text x="10.20" y="211.20" font-size="12.5" textLength="7.6" lengthAdjust="spacingAndGlyphs">C</text>
<text x="151.00" y="373.20" font-size="10" text-anchor="middle">Time (min)</text>
<text transform="translate(30.4,281.0) rotate(-90)" font-size="10" text-anchor="middle" textLength="66.6" lengthAdjust="spacingAndGlyphs">Thrombin (nM)</text>
<polyline points="59.0,343.15 59.5,343.15 60.0,343.16 60.5,343.16 61.0,343.10 61.5,343.04 62.0,342.98 62.5,343.01 63.0,343.03 63.5,343.05 64.0,343.05 64.5,343.04 65.0,343.04 65.5,343.05 66.0,343.06 66.5,343.07 67.0,342.95 67.5,342.82 68.0,342.70 68.5,342.90 69.0,342.96 69.5,342.68 70.0,341.95 70.5,341.07 71.0,340.09 71.5,338.83 72.0,337.22 72.5,335.19 73.0,332.70 73.5,328.57 74.0,322.87 74.5,317.39 75.0,312.57 75.5,307.57 76.0,301.57 76.5,294.04 77.0,287.82 77.5,283.08 78.0,277.56 78.5,270.76 79.0,264.74 79.5,259.49 80.0,255.62 80.5,252.61 81.0,250.50 81.5,249.01 82.0,248.30 82.5,249.02 83.0,250.50 83.5,252.50 84.0,255.21 84.5,258.31 85.0,262.25 85.5,266.61 86.0,270.73 86.5,274.11 87.0,277.16 87.5,280.00 88.0,282.93 88.5,285.83 89.0,288.80 89.5,291.42 90.0,294.02 90.5,296.37 91.0,298.88 91.5,300.83 92.0,302.49 92.5,303.50 93.0,304.76 93.5,306.34 94.0,308.55 94.5,310.79 95.0,312.93 95.5,314.83 96.0,316.68 96.5,318.41 97.0,320.02 97.5,321.50 98.0,322.90 98.5,323.87 99.0,324.75 99.5,325.53 100.0,326.59 100.5,327.58 101.0,328.51 101.5,329.06 102.0,329.57 102.5,330.03 103.0,330.99 103.5,331.91 104.0,332.82 104.5,332.62 105.0,332.41 105.5,332.17 106.0,333.11 106.5,334.02 107.0,334.91 107.5,335.07 108.0,335.20 108.5,335.31 109.0,336.06 109.5,336.79 110.0,337.51 110.5,337.54 111.0,337.56 111.5,337.57 112.0,338.38 112.5,339.18 113.0,339.96 113.5,339.44 114.0,338.90 114.5,338.34 115.0,339.02 115.5,339.69 116.0,340.35 116.5,340.08 117.0,339.81 117.5,339.53 118.0,340.07 118.5,340.62 119.0,341.16 119.5,340.93 120.0,340.70 120.5,340.47 121.0,341.02 121.5,341.56 122.0,342.11 122.5,341.98 123.0,341.84 123.5,341.70 124.0,341.94 124.5,342.18 125.0,342.41 125.5,342.18 126.0,341.95 126.5,341.71 127.0,342.03 127.5,342.35 128.0,342.67 128.5,343.21 129.0,343.05 129.5,342.89 130.0,342.86 130.5,342.83 131.0,342.81 131.5,342.96 132.0,343.12 132.5,343.28 133.0,343.28 133.5,343.28 134.0,343.28 134.5,343.15 135.0,343.01 135.5,342.88 136.0,342.90 136.5,342.93 137.0,342.95 137.5,343.03 138.0,343.11 138.5,343.20 139.0,342.92 139.5,342.65 140.0,342.37 140.5,342.52 141.0,342.66 141.5,342.80 142.0,342.24 142.5,341.68 143.0,341.12 143.5,341.42 144.0,341.72 144.5,342.01 145.0,342.42 145.5,342.83 146.0,343.23 146.5,343.24 147.0,343.24 147.5,343.25 148.0,343.11 148.5,342.97 149.0,342.83 149.5,342.88 150.0,342.92 150.5,342.97 151.0,343.07 151.5,343.17 152.0,343.27 152.5,343.04 153.0,342.82 153.5,342.59 154.0,342.77 154.5,342.94 155.0,343.12 155.5,343.08 156.0,343.04 156.5,342.99 157.0,342.90 157.5,342.80 158.0,342.70 158.5,342.11 159.0,341.52 159.5,340.94 160.0,340.59 160.5,340.25 161.0,339.90 161.5,340.19 162.0,340.48 162.5,340.77 163.0,341.39 163.5,342.01 164.0,342.63 164.5,342.58 165.0,342.54 165.5,342.49 166.0,342.52 166.5,342.54 167.0,342.56 167.5,342.71 168.0,342.86 168.5,343.02 169.0,342.10 169.5,341.18 170.0,340.26 170.5,340.67 171.0,341.08 171.5,341.49 172.0,342.01 172.5,342.52 173.0,343.04 173.5,343.00 174.0,342.96 174.5,342.92 175.0,342.81 175.5,342.70 176.0,342.59 176.5,342.63 177.0,342.68 177.5,342.72 178.0,342.71 178.5,342.70 179.0,342.69 179.5,342.85 180.0,343.01 180.5,343.16 181.0,342.83 181.5,342.49 182.0,342.15 182.5,342.30 183.0,342.44 183.5,342.58 184.0,342.74 184.5,342.91 185.0,343.07 185.5,342.90 186.0,342.73 186.5,342.57 187.0,342.65 187.5,342.74 188.0,342.82 188.5,342.29 189.0,341.75 189.5,341.22 190.0,341.57 190.5,341.91 191.0,342.26 191.5,341.83 192.0,341.40 192.5,340.97 193.0,341.57 193.5,342.17 194.0,342.76 194.5,342.28 195.0,341.80 195.5,341.31 196.0,341.84 196.5,342.37 197.0,342.90 197.5,342.96 198.0,343.01 198.5,343.06 199.0,343.06 199.5,343.07 200.0,343.08 200.5,343.07 201.0,343.07 201.5,343.06 202.0,342.31 202.5,341.56 203.0,340.81 203.5,341.18 204.0,341.55 204.5,341.91 205.0,342.04 205.5,342.17 206.0,342.30 206.5,342.09 207.0,341.88 207.5,341.67 208.0,342.13 208.5,342.58 209.0,343.04 209.5,342.88 210.0,342.72 210.5,342.56 211.0,342.73 211.5,342.89 212.0,343.06 212.5,342.95 213.0,342.83 213.5,342.72 214.0,342.81 214.5,342.91 215.0,343.01 215.5,343.01 216.0,343.02 216.5,343.02 217.0,342.90 217.5,342.78 218.0,342.66 218.5,342.73 219.0,342.80 219.5,342.87 220.0,342.83 220.5,342.79 221.0,342.75 221.5,342.58 222.0,342.41 222.5,342.24 223.0,342.17 223.5,342.10 224.0,342.03 224.5,342.22 225.0,342.41 225.5,342.60 226.0,342.31 226.5,342.01 227.0,341.71 227.5,342.13 228.0,342.54 228.5,342.95 229.0,343.00 229.5,343.05 230.0,343.11 230.5,343.13 231.0,343.16 231.5,343.18 232.0,343.12 232.5,343.05 233.0,342.99 233.5,342.86 234.0,342.72 234.5,342.58 235.0,342.75 235.5,342.91 236.0,343.07 236.5,342.75 237.0,342.42 237.5,342.10 238.0,342.20 238.5,342.30 239.0,342.41 239.5,342.62 240.0,342.84 240.5,343.05" fill="none" stroke="#e0952e" stroke-width="1.1" stroke-linejoin="round"/>
<polyline points="59.0,342.95 59.5,343.01 60.0,343.06 60.5,343.12 61.0,343.13 61.5,343.14 62.0,343.15 62.5,343.10 63.0,343.05 63.5,343.00 64.0,343.06 64.5,343.12 65.0,343.18 65.5,343.09 66.0,343.00 66.5,342.91 67.0,342.98 67.5,343.06 68.0,343.13 68.5,343.16 69.0,343.19 69.5,343.21 70.0,343.24 70.5,343.14 71.0,342.81 71.5,342.27 72.0,341.62 72.5,340.88 73.0,339.76 73.5,338.23 74.0,336.35 74.5,334.15 75.0,331.55 75.5,327.64 76.0,322.96 76.5,318.40 77.0,314.17 77.5,309.93 78.0,305.80 78.5,301.80 79.0,297.79 79.5,293.97 80.0,290.60 80.5,287.89 81.0,285.56 81.5,283.02 82.0,279.99 82.5,276.87 83.0,274.09 83.5,272.10 84.0,270.67 84.5,269.36 85.0,268.33 85.5,267.71 86.0,267.64 86.5,268.11 87.0,268.96 87.5,270.08 88.0,271.35 88.5,272.67 89.0,274.41 89.5,276.42 90.0,278.57 90.5,280.72 91.0,283.32 91.5,285.96 92.0,288.34 92.5,289.94 93.0,291.38 93.5,292.94 94.0,295.05 94.5,297.20 95.0,299.30 95.5,300.53 96.0,301.75 96.5,302.94 97.0,305.53 97.5,308.06 98.0,310.50 98.5,311.49 99.0,312.43 99.5,313.32 100.0,315.17 100.5,316.98 101.0,318.77 101.5,319.53 102.0,320.32 102.5,321.09 103.0,322.96 103.5,324.75 104.0,326.43 104.5,326.73 105.0,326.94 105.5,327.09 106.0,328.28 106.5,329.42 107.0,330.52 107.5,330.86 108.0,331.17 108.5,331.46 109.0,332.18 109.5,332.88 110.0,333.58 110.5,334.04 111.0,334.48 111.5,334.89 112.0,335.52 112.5,336.12 113.0,336.68 113.5,336.54 114.0,336.38 114.5,336.20 115.0,336.72 115.5,337.23 116.0,337.73 116.5,337.86 117.0,337.98 117.5,338.09 118.0,338.52 118.5,338.95 119.0,339.38 119.5,339.44 120.0,339.51 120.5,339.56 121.0,339.90 121.5,340.23 122.0,340.55 122.5,340.41 123.0,340.26 123.5,340.10 124.0,340.64 124.5,341.18 125.0,341.71 125.5,341.47 126.0,341.22 126.5,340.97 127.0,341.70 127.5,342.42 128.0,343.14 128.5,342.75 129.0,342.35 129.5,341.95 130.0,342.45 130.5,342.95 131.0,343.44 131.5,342.98 132.0,342.51 132.5,342.04 133.0,342.49 133.5,342.93 134.0,343.38 134.5,343.18 135.0,342.98 135.5,342.78 136.0,342.49 136.5,342.53 137.0,342.18 137.5,342.22 138.0,342.26 138.5,342.31 139.0,342.46 139.5,342.61 140.0,342.77 140.5,342.85 141.0,342.93 141.5,343.02 142.0,342.96 142.5,342.90 143.0,342.84 143.5,342.55 144.0,342.26 144.5,341.97 145.0,342.03 145.5,342.09 146.0,342.15 146.5,342.50 147.0,342.85 147.5,343.19 148.0,343.16 148.5,343.13 149.0,343.10 149.5,342.94 150.0,342.78 150.5,342.61 151.0,342.83 151.5,343.05 152.0,343.27 152.5,342.88 153.0,342.48 153.5,342.09 154.0,342.42 154.5,342.75 155.0,343.08 155.5,343.03 156.0,342.98 156.5,342.92 157.0,342.86 157.5,342.80 158.0,342.75 158.5,342.85 159.0,342.95 159.5,343.05 160.0,343.10 160.5,343.16 161.0,343.21 161.5,343.20 162.0,343.20 162.5,343.19 163.0,343.12 163.5,343.05 164.0,342.98 164.5,343.01 165.0,343.05 165.5,343.08 166.0,343.08 166.5,343.07 167.0,343.07 167.5,343.10 168.0,343.12 168.5,343.15 169.0,342.95 169.5,342.76 170.0,342.56 170.5,342.43 171.0,342.31 171.5,342.19 172.0,342.41 172.5,342.63 173.0,342.86 173.5,342.96 174.0,343.07 174.5,343.17 175.0,342.46 175.5,341.74 176.0,341.03 176.5,341.02 177.0,341.01 177.5,340.99 178.0,340.88 178.5,340.76 179.0,340.65 179.5,340.95 180.0,341.25 180.5,341.54 181.0,342.11 181.5,342.69 182.0,343.26 182.5,342.41 183.0,341.56 183.5,340.71 184.0,340.89 184.5,341.08 185.0,341.27 185.5,341.42 186.0,341.57 186.5,341.72 187.0,342.10 187.5,342.49 188.0,342.88 188.5,342.61 189.0,342.35 189.5,342.08 190.0,342.37 190.5,342.66 191.0,342.95 191.5,342.72 192.0,342.49 192.5,342.26 193.0,342.41 193.5,342.57 194.0,342.73 194.5,342.81 195.0,342.88 195.5,342.96 196.0,342.98 196.5,343.01 197.0,343.04 197.5,342.99 198.0,342.95 198.5,342.91 199.0,342.18 199.5,341.46 200.0,340.74 200.5,340.73 201.0,340.73 201.5,340.72 202.0,340.77 202.5,340.82 203.0,340.87 203.5,341.53 204.0,342.19 204.5,342.85 205.0,341.98 205.5,341.10 206.0,340.23 206.5,340.78 207.0,341.33 207.5,341.88 208.0,342.02 208.5,342.17 209.0,342.31 209.5,341.43 210.0,340.55 210.5,339.67 211.0,340.47 211.5,341.28 212.0,342.08 212.5,342.24 213.0,342.40 213.5,342.57 214.0,342.65 214.5,342.72 215.0,342.80 215.5,342.79 216.0,342.77 216.5,342.76 217.0,342.22 217.5,341.67 218.0,341.13 218.5,341.51 219.0,341.88 219.5,342.26 220.0,342.31 220.5,342.35 221.0,342.40 221.5,342.46 222.0,342.51 222.5,342.57 223.0,342.56 223.5,342.55 224.0,342.55 224.5,342.15 225.0,341.76 225.5,341.36 226.0,341.87 226.5,342.37 227.0,342.87 227.5,342.80 228.0,342.73 228.5,342.67 229.0,342.52 229.5,342.37 230.0,342.22 230.5,342.45 231.0,342.68 231.5,342.91 232.0,342.75 232.5,342.58 233.0,342.41 233.5,342.46 234.0,342.50 234.5,342.55 235.0,341.79 235.5,341.03 236.0,340.28 236.5,340.46 237.0,340.64 237.5,340.82 238.0,341.37 238.5,341.93 239.0,342.48 239.5,342.34 240.0,342.21 240.5,342.07" fill="none" stroke="#6c4a8e" stroke-width="1.1" stroke-linejoin="round"/>
<polyline points="59.0,343.26 59.5,343.22 60.0,343.17 60.5,343.13 61.0,343.14 61.5,343.14 62.0,343.15 62.5,343.11 63.0,343.06 63.5,343.02 64.0,343.08 64.5,343.14 65.0,343.20 65.5,343.19 66.0,343.17 66.5,343.15 67.0,343.11 67.5,343.06 68.0,343.02 68.5,343.10 69.0,343.18 69.5,343.25 70.0,343.22 70.5,343.18 71.0,343.14 71.5,343.20 72.0,343.25 72.5,343.16 73.0,342.53 73.5,341.54 74.0,340.28 74.5,338.82 75.0,337.23 75.5,335.33 76.0,332.79 76.5,329.85 77.0,326.79 77.5,323.77 78.0,320.49 78.5,317.09 79.0,313.77 79.5,310.71 80.0,307.88 80.5,305.17 81.0,302.55 81.5,300.00 82.0,297.34 82.5,294.64 83.0,292.18 83.5,290.29 84.0,288.97 84.5,287.90 85.0,287.30 85.5,287.04 86.0,286.81 86.5,286.64 87.0,286.51 87.5,286.43 88.0,286.40 88.5,286.53 89.0,286.88 89.5,287.38 90.0,287.95 90.5,288.55 91.0,289.33 91.5,290.28 92.0,291.34 92.5,292.47 93.0,293.79 93.5,295.26 94.0,297.02 94.5,298.79 95.0,300.57 95.5,302.13 96.0,303.74 96.5,305.35 97.0,307.37 97.5,309.27 98.0,311.08 98.5,312.07 99.0,313.02 99.5,313.93 100.0,315.75 100.5,317.54 101.0,319.33 101.5,320.63 102.0,321.92 102.5,323.17 103.0,324.39 103.5,325.51 104.0,326.48 104.5,326.98 105.0,327.42 105.5,327.81 106.0,328.88 106.5,329.91 107.0,330.90 107.5,331.28 108.0,331.65 108.5,332.01 109.0,332.92 109.5,333.81 110.0,334.70 110.5,334.53 111.0,334.33 111.5,334.11 112.0,335.06 112.5,335.97 113.0,336.85 113.5,336.62 114.0,336.38 114.5,336.13 115.0,336.72 115.5,337.31 116.0,337.88 116.5,337.68 117.0,337.48 117.5,337.27 118.0,337.93 118.5,338.59 119.0,339.23 119.5,339.15 120.0,339.05 120.5,338.96 121.0,339.41 121.5,339.87 122.0,340.32 122.5,340.31 123.0,340.30 123.5,340.28 124.0,340.68 124.5,341.08 125.0,341.48 125.5,341.44 126.0,341.39 126.5,341.35 127.0,341.37 127.5,341.39 128.0,341.40 128.5,341.32 129.0,341.22 129.5,341.12 130.0,341.76 130.5,342.40 131.0,343.04 131.5,342.59 132.0,342.14 132.5,341.69 133.0,342.03 133.5,342.37 134.0,342.70 134.5,342.44 135.0,342.18 135.5,341.91 136.0,342.32 136.5,342.73 137.0,343.14 137.5,342.72 138.0,342.30 138.5,342.35 139.0,342.58 139.5,342.81 140.0,343.04 140.5,342.99 141.0,342.94 141.5,342.89 142.0,342.82 142.5,342.74 143.0,342.66 143.5,342.43 144.0,342.19 144.5,341.95 145.0,341.90 145.5,341.85 146.0,341.79 146.5,342.29 147.0,342.79 147.5,343.28 148.0,343.15 148.5,343.01 149.0,342.87 149.5,342.90 150.0,342.94 150.5,342.97 151.0,342.85 151.5,342.74 152.0,342.63 152.5,342.57 153.0,342.51 153.5,342.45 154.0,342.57 154.5,342.69 155.0,342.81 155.5,342.95 156.0,343.10 156.5,343.25 157.0,343.15 157.5,343.05 158.0,342.95 158.5,342.83 159.0,342.71 159.5,342.60 160.0,342.22 160.5,341.85 161.0,341.47 161.5,342.06 162.0,342.66 162.5,343.25 163.0,343.07 163.5,342.90 164.0,342.73 164.5,342.91 165.0,343.09 165.5,343.26 166.0,343.26 166.5,343.25 167.0,343.24 167.5,343.02 168.0,342.81 168.5,342.59 169.0,341.98 169.5,341.37 170.0,340.77 170.5,340.89 171.0,341.01 171.5,341.13 172.0,341.43 172.5,341.74 173.0,342.05 173.5,342.26 174.0,342.48 174.5,342.69 175.0,342.72 175.5,342.75 176.0,342.78 176.5,342.82 177.0,342.85 177.5,342.89 178.0,342.96 178.5,343.04 179.0,343.12 179.5,343.10 180.0,343.09 180.5,343.07 181.0,343.11 181.5,343.16 182.0,343.20 182.5,343.05 183.0,342.91 183.5,342.77 184.0,342.92 184.5,343.07 185.0,343.22 185.5,342.65 186.0,342.08 186.5,341.51 187.0,342.00 187.5,342.49 188.0,342.98 188.5,342.93 189.0,342.87 189.5,342.82 190.0,342.59 190.5,342.36 191.0,342.13 191.5,342.50 192.0,342.88 192.5,343.26 193.0,343.10 193.5,342.93 194.0,342.77 194.5,342.84 195.0,342.91 195.5,342.98 196.0,342.07 196.5,341.15 197.0,340.24 197.5,341.15 198.0,342.06 198.5,342.97 199.0,342.56 199.5,342.15 200.0,341.74 200.5,341.89 201.0,342.04 201.5,342.18 202.0,342.37 202.5,342.56 203.0,342.75 203.5,342.62 204.0,342.49 204.5,342.37 205.0,342.60 205.5,342.83 206.0,343.07 206.5,343.14 207.0,343.22 207.5,343.30 208.0,343.21 208.5,343.12 209.0,343.04 209.5,342.93 210.0,342.83 210.5,342.72 211.0,342.89 211.5,343.05 212.0,343.22 212.5,342.90 213.0,342.58 213.5,342.26 214.0,342.35 214.5,342.44 215.0,342.53 215.5,342.72 216.0,342.90 216.5,343.09 217.0,343.13 217.5,343.17 218.0,343.21 218.5,343.06 219.0,342.92 219.5,342.77 220.0,342.80 220.5,342.82 221.0,342.84 221.5,342.97 222.0,343.10 222.5,343.23 223.0,343.09 223.5,342.96 224.0,342.82 224.5,342.92 225.0,343.02 225.5,343.12 226.0,342.99 226.5,342.87 227.0,342.75 227.5,342.68 228.0,342.61 228.5,342.55 229.0,342.66 229.5,342.78 230.0,342.90 230.5,342.85 231.0,342.80 231.5,342.75 232.0,342.88 232.5,343.02 233.0,343.15 233.5,342.96 234.0,342.77 234.5,342.57 235.0,342.37 235.5,342.16 236.0,341.95 236.5,342.36 237.0,342.77 237.5,343.18 238.0,343.20 238.5,343.22 239.0,343.24 239.5,343.09 240.0,342.93 240.5,342.78" fill="none" stroke="#72b84c" stroke-width="1.1" stroke-linejoin="round"/>
<polyline points="59.0,343.16 59.5,343.18 60.0,343.21 60.5,343.23 61.0,343.18 61.5,343.14 62.0,343.09 62.5,343.07 63.0,343.06 63.5,343.05 64.0,343.12 64.5,343.20 65.0,343.28 65.5,343.21 66.0,343.13 66.5,343.05 67.0,343.13 67.5,343.20 68.0,343.27 68.5,343.20 69.0,343.14 69.5,343.07 70.0,343.08 70.5,343.09 71.0,343.10 71.5,343.08 72.0,343.06 72.5,343.03 73.0,343.12 73.5,342.86 74.0,342.44 74.5,341.81 75.0,341.07 75.5,340.24 76.0,339.34 76.5,338.40 77.0,337.31 77.5,335.99 78.0,334.49 78.5,332.87 79.0,331.18 79.5,329.45 80.0,327.56 80.5,325.49 81.0,323.33 81.5,321.19 82.0,319.16 82.5,317.28 83.0,315.40 83.5,313.56 84.0,311.81 84.5,310.19 85.0,308.76 85.5,307.48 86.0,306.25 86.5,305.10 87.0,304.09 87.5,303.28 88.0,302.70 88.5,302.23 89.0,301.78 89.5,301.38 90.0,301.02 90.5,300.72 91.0,300.49 91.5,300.35 92.0,300.30 92.5,300.36 93.0,300.54 93.5,300.82 94.0,301.18 94.5,301.61 95.0,302.08 95.5,302.59 96.0,303.12 96.5,303.64 97.0,304.23 97.5,304.93 98.0,305.71 98.5,306.27 99.0,306.89 99.5,307.53 100.0,308.73 100.5,309.92 101.0,311.12 101.5,311.98 102.0,312.89 102.5,313.82 103.0,315.36 103.5,316.89 104.0,318.39 104.5,318.77 105.0,319.09 105.5,319.41 106.0,320.93 106.5,322.43 107.0,323.92 107.5,324.11 108.0,324.26 108.5,324.37 109.0,325.44 109.5,326.45 110.0,327.40 110.5,327.70 111.0,327.98 111.5,328.23 112.0,329.42 112.5,330.58 113.0,331.71 113.5,331.31 114.0,330.87 114.5,330.40 115.0,331.39 115.5,332.34 116.0,333.28 116.5,333.30 117.0,333.30 117.5,333.29 118.0,333.56 118.5,333.82 119.0,334.07 119.5,333.95 120.0,333.83 120.5,333.70 121.0,334.19 121.5,334.69 122.0,335.18 122.5,335.34 123.0,335.50 123.5,335.64 124.0,336.32 124.5,336.99 125.0,337.66 125.5,337.63 126.0,337.60 126.5,337.57 127.0,337.68 127.5,337.79 128.0,337.90 128.5,337.66 129.0,337.43 129.5,337.19 130.0,338.12 130.5,339.05 131.0,339.98 131.5,339.88 132.0,339.79 132.5,339.69 133.0,340.13 133.5,340.56 134.0,340.99 134.5,340.58 135.0,340.17 135.5,339.75 136.0,340.65 136.5,341.54 137.0,342.42 137.5,341.58 138.0,340.73 138.5,339.88 139.0,340.27 139.5,340.67 140.0,341.06 140.5,340.93 141.0,340.79 141.5,340.65 142.0,341.60 142.5,342.54 143.0,343.48 143.5,342.89 144.0,342.29 144.5,341.69 145.0,341.74 145.5,342.23 146.0,342.21 146.5,342.55 147.0,342.89 147.5,343.23 148.0,343.22 148.5,343.21 149.0,343.20 149.5,343.02 150.0,342.84 150.5,342.66 151.0,342.40 151.5,342.13 152.0,341.87 152.5,342.24 153.0,342.61 153.5,342.98 154.0,342.89 154.5,342.80 155.0,342.71 155.5,342.51 156.0,342.32 156.5,342.12 157.0,342.33 157.5,342.54 158.0,342.75 158.5,342.77 159.0,342.80 159.5,342.83 160.0,342.77 160.5,342.70 161.0,342.64 161.5,342.76 162.0,342.89 162.5,343.01 163.0,342.92 163.5,342.84 164.0,342.75 164.5,342.84 165.0,342.94 165.5,343.03 166.0,342.88 166.5,342.73 167.0,342.58 167.5,342.67 168.0,342.75 168.5,342.84 169.0,342.99 169.5,343.14 170.0,343.30 170.5,342.79 171.0,342.27 171.5,341.76 172.0,342.14 172.5,342.52 173.0,342.91 173.5,342.92 174.0,342.92 174.5,342.93 175.0,342.78 175.5,342.62 176.0,342.46 176.5,342.73 177.0,343.00 177.5,343.26 178.0,343.20 178.5,343.14 179.0,343.08 179.5,343.01 180.0,342.94 180.5,342.87 181.0,342.52 181.5,342.17 182.0,341.82 182.5,342.00 183.0,342.18 183.5,342.36 184.0,341.69 184.5,341.03 185.0,340.36 185.5,340.51 186.0,340.66 186.5,340.82 187.0,341.44 187.5,342.07 188.0,342.70 188.5,342.78 189.0,342.86 189.5,342.94 190.0,343.02 190.5,343.09 191.0,343.17 191.5,342.92 192.0,342.67 192.5,342.42 193.0,342.68 193.5,342.94 194.0,343.20 194.5,343.03 195.0,342.86 195.5,342.69 196.0,342.80 196.5,342.91 197.0,343.03 197.5,342.98 198.0,342.92 198.5,342.87 199.0,342.64 199.5,342.41 200.0,342.18 200.5,342.32 201.0,342.46 201.5,342.60 202.0,342.74 202.5,342.88 203.0,343.02 203.5,343.06 204.0,343.10 204.5,343.14 205.0,342.94 205.5,342.74 206.0,342.55 206.5,342.38 207.0,342.21 207.5,342.04 208.0,342.42 208.5,342.80 209.0,343.18 209.5,342.97 210.0,342.76 210.5,342.56 211.0,342.11 211.5,341.67 212.0,341.22 212.5,341.76 213.0,342.30 213.5,342.84 214.0,341.67 214.5,340.51 215.0,339.34 215.5,339.28 216.0,339.23 216.5,339.17 217.0,339.42 217.5,339.66 218.0,339.90 218.5,340.88 219.0,341.86 219.5,342.84 220.0,342.66 220.5,342.48 221.0,342.30 221.5,342.39 222.0,342.49 222.5,342.58 223.0,342.82 223.5,343.06 224.0,343.29 224.5,343.11 225.0,342.92 225.5,342.74 226.0,342.81 226.5,342.87 227.0,342.94 227.5,342.14 228.0,341.34 228.5,340.54 229.0,340.50 229.5,340.47 230.0,340.43 230.5,341.16 231.0,341.89 231.5,342.62 232.0,342.48 232.5,342.33 233.0,342.19 233.5,342.49 234.0,342.79 234.5,343.09 235.0,343.08 235.5,343.07 236.0,343.06 236.5,343.08 237.0,343.10 237.5,343.12 238.0,341.93 238.5,340.75 239.0,339.57 239.5,340.70 240.0,341.84 240.5,342.98" fill="none" stroke="#a6203f" stroke-width="1.1" stroke-linejoin="round"/>
<polyline points="59.0,343.22 59.5,343.25 60.0,343.27 60.5,343.30 61.0,343.24 61.5,343.17 62.0,343.11 62.5,343.17 63.0,343.23 63.5,343.29 64.0,343.28 64.5,343.26 65.0,343.25 65.5,343.24 66.0,343.22 66.5,343.21 67.0,343.16 67.5,343.11 68.0,343.06 68.5,343.13 69.0,343.19 69.5,343.25 70.0,343.11 70.5,342.98 71.0,342.84 71.5,342.99 72.0,343.14 72.5,343.29 73.0,343.29 73.5,343.28 74.0,343.13 74.5,342.90 75.0,342.61 75.5,342.26 76.0,341.87 76.5,341.44 77.0,340.98 77.5,340.50 78.0,339.91 78.5,339.20 79.0,338.40 79.5,337.54 80.0,336.66 80.5,335.80 81.0,334.91 81.5,333.96 82.0,332.99 82.5,332.03 83.0,331.14 83.5,330.35 84.0,329.63 84.5,328.94 85.0,328.30 85.5,327.69 86.0,327.12 86.5,326.59 87.0,326.12 87.5,325.68 88.0,325.26 88.5,324.84 89.0,324.39 89.5,323.89 90.0,323.28 90.5,322.60 91.0,321.94 91.5,321.36 92.0,320.92 92.5,320.65 93.0,320.41 93.5,320.19 94.0,319.99 94.5,319.82 95.0,319.68 95.5,319.58 96.0,319.52 96.5,319.50 97.0,319.54 97.5,319.63 98.0,319.76 98.5,319.92 99.0,320.11 99.5,320.32 100.0,320.59 100.5,320.87 101.0,321.15 101.5,321.30 102.0,321.46 102.5,321.66 103.0,322.06 103.5,322.47 104.0,322.91 104.5,323.23 105.0,323.56 105.5,323.88 106.0,324.39 106.5,324.88 107.0,325.36 107.5,325.52 108.0,325.69 108.5,325.85 109.0,326.31 109.5,326.77 110.0,327.23 110.5,327.22 111.0,327.20 111.5,327.17 112.0,327.94 112.5,328.70 113.0,329.46 113.5,329.31 114.0,329.17 114.5,329.02 115.0,329.75 115.5,330.47 116.0,331.20 116.5,330.77 117.0,330.33 117.5,329.89 118.0,330.70 118.5,331.49 119.0,332.28 119.5,332.10 120.0,331.91 120.5,331.71 121.0,332.19 121.5,332.66 122.0,333.12 122.5,333.23 123.0,333.35 123.5,333.46 124.0,333.78 124.5,334.11 125.0,334.44 125.5,334.46 126.0,334.48 126.5,334.50 127.0,334.60 127.5,334.70 128.0,334.81 128.5,334.85 129.0,334.90 129.5,334.97 130.0,335.48 130.5,336.05 131.0,336.64 131.5,336.85 132.0,337.04 132.5,337.20 133.0,337.73 133.5,338.20 134.0,338.66 134.5,338.34 135.0,338.02 135.5,337.68 136.0,338.15 136.5,338.61 137.0,339.07 137.5,338.92 138.0,338.77 138.5,338.62 139.0,338.84 139.5,339.07 140.0,339.29 140.5,339.26 141.0,339.22 141.5,339.18 142.0,339.44 142.5,339.70 143.0,339.96 143.5,339.79 144.0,339.62 144.5,339.45 145.0,339.98 145.5,340.49 146.0,341.01 146.5,340.64 147.0,340.27 147.5,339.90 148.0,340.30 148.5,340.70 149.0,341.10 149.5,340.87 150.0,340.65 150.5,340.42 151.0,340.68 151.5,340.94 152.0,341.20 152.5,341.06 153.0,340.92 153.5,340.78 154.0,341.11 154.5,341.44 155.0,341.78 155.5,341.86 156.0,341.94 156.5,342.03 157.0,342.23 157.5,342.43 158.0,342.63 158.5,343.30 159.0,343.27 159.5,343.23 160.0,343.21 160.5,343.18 161.0,343.15 161.5,343.18 162.0,343.21 162.5,343.24 163.0,343.23 163.5,343.22 164.0,343.21 164.5,343.24 165.0,343.26 165.5,343.29 166.0,343.27 166.5,343.25 167.0,343.24 167.5,343.24 168.0,343.25 168.5,343.25 169.0,343.20 169.5,343.16 170.0,343.11 170.5,343.04 171.0,342.98 171.5,342.91 172.0,343.00 172.5,343.09 173.0,343.18 173.5,343.19 174.0,343.20 174.5,343.21 175.0,343.15 175.5,343.09 176.0,343.03 176.5,343.01 177.0,343.00 177.5,342.98 178.0,342.97 178.5,342.96 179.0,342.94 179.5,342.91 180.0,342.88 180.5,342.85 181.0,342.93 181.5,343.00 182.0,343.07 182.5,343.09 183.0,343.11 183.5,343.13 184.0,343.17 184.5,343.21 185.0,343.25 185.5,343.11 186.0,342.97 186.5,342.83 187.0,342.84 187.5,342.86 188.0,342.88 188.5,342.97 189.0,343.07 189.5,343.17 190.0,343.08 190.5,343.00 191.0,342.92 191.5,342.92 192.0,342.92 192.5,342.92 193.0,342.92 193.5,342.92 194.0,342.92 194.5,342.93 195.0,342.93 195.5,342.94 196.0,343.05 196.5,343.16 197.0,343.28 197.5,343.16 198.0,343.04 198.5,342.92 199.0,343.04 199.5,343.16 200.0,343.27 200.5,343.21 201.0,343.15 201.5,343.09 202.0,343.09 202.5,343.10 203.0,343.10 203.5,343.11 204.0,343.12 204.5,343.14 205.0,343.18 205.5,343.22 206.0,343.26 206.5,343.18 207.0,343.09 207.5,343.01 208.0,343.09 208.5,343.17 209.0,343.24 209.5,343.25 210.0,343.27 210.5,343.28 211.0,343.28 211.5,343.28 212.0,343.29 212.5,343.23 213.0,343.18 213.5,343.13 214.0,342.77 214.5,342.41 215.0,342.05 215.5,342.23 216.0,342.41 216.5,342.59 217.0,342.65 217.5,342.71 218.0,342.76 218.5,342.81 219.0,342.85 219.5,342.89 220.0,342.92 220.5,342.96 221.0,342.99 221.5,343.07 222.0,343.15 222.5,343.22 223.0,343.15 223.5,343.08 224.0,343.01 224.5,342.92 225.0,342.83 225.5,342.74 226.0,342.74 226.5,342.74 227.0,342.74 227.5,342.77 228.0,342.79 228.5,342.82 229.0,342.76 229.5,342.71 230.0,342.66 230.5,342.81 231.0,342.96 231.5,343.12 232.0,343.08 232.5,343.05 233.0,343.02 233.5,343.00 234.0,342.98 234.5,342.95 235.0,343.00 235.5,343.05 236.0,343.10 236.5,343.11 237.0,343.12 237.5,343.13 238.0,342.96 238.5,342.78 239.0,342.61 239.5,342.78 240.0,342.95 240.5,343.12" fill="none" stroke="#3c5c96" stroke-width="1.1" stroke-linejoin="round"/>
<polyline points="59.0,343.17 59.5,343.01 60.0,342.85 60.5,342.69 61.0,342.78 61.5,342.88 62.0,342.98 62.5,343.07 63.0,343.16 63.5,343.25 64.0,343.25 64.5,343.24 65.0,343.23 65.5,343.24 66.0,343.24 66.5,343.25 67.0,343.15 67.5,343.06 68.0,342.96 68.5,343.06 69.0,343.16 69.5,343.26 70.0,343.22 70.5,343.19 71.0,343.15 71.5,343.19 72.0,343.23 72.5,343.28 73.0,343.28 73.5,343.10 74.0,342.73 74.5,342.28 75.0,341.76 75.5,341.18 76.0,340.55 76.5,339.88 77.0,339.18 77.5,338.45 78.0,337.60 78.5,336.63 79.0,335.57 79.5,334.44 80.0,333.30 80.5,332.16 81.0,331.06 81.5,329.93 82.0,328.77 82.5,327.61 83.0,326.46 83.5,325.35 84.0,324.29 84.5,323.25 85.0,322.20 85.5,321.17 86.0,320.17 86.5,319.22 87.0,318.34 87.5,317.55 88.0,316.87 88.5,316.24 89.0,315.64 89.5,315.07 90.0,314.53 90.5,314.04 91.0,313.61 91.5,313.23 92.0,312.91 92.5,312.65 93.0,312.40 93.5,312.15 94.0,311.92 94.5,311.71 95.0,311.52 95.5,311.36 96.0,311.23 96.5,311.15 97.0,311.10 97.5,311.11 98.0,311.19 98.5,311.32 99.0,311.51 99.5,311.75 100.0,312.04 100.5,312.37 101.0,312.72 101.5,313.02 102.0,313.33 102.5,313.66 103.0,314.30 103.5,315.08 104.0,315.95 104.5,316.59 105.0,317.26 105.5,317.90 106.0,318.72 106.5,319.44 107.0,320.09 107.5,320.52 108.0,320.92 108.5,321.31 109.0,321.93 109.5,322.55 110.0,323.15 110.5,323.54 111.0,323.93 111.5,324.31 112.0,324.98 112.5,325.64 113.0,326.30 113.5,326.61 114.0,326.92 114.5,327.21 115.0,327.91 115.5,328.60 116.0,329.28 116.5,329.34 117.0,329.40 117.5,329.46 118.0,330.03 118.5,330.59 119.0,331.15 119.5,331.32 120.0,331.47 120.5,331.62 121.0,332.15 121.5,332.67 122.0,333.18 122.5,333.36 123.0,333.53 123.5,333.69 124.0,334.04 124.5,334.39 125.0,334.74 125.5,334.98 126.0,335.22 126.5,335.43 127.0,335.78 127.5,336.11 128.0,336.41 128.5,336.43 129.0,336.43 129.5,336.42 130.0,337.00 130.5,337.58 131.0,338.14 131.5,337.73 132.0,337.32 132.5,336.90 133.0,337.41 133.5,337.91 134.0,338.42 134.5,338.27 135.0,338.12 135.5,337.97 136.0,338.36 136.5,338.74 137.0,339.12 137.5,339.03 138.0,338.93 138.5,338.83 139.0,339.13 139.5,339.42 140.0,339.71 140.5,339.79 141.0,339.88 141.5,339.97 142.0,340.21 142.5,340.45 143.0,340.69 143.5,340.52 144.0,340.35 144.5,340.18 145.0,340.45 145.5,340.71 146.0,340.97 146.5,340.86 147.0,340.76 147.5,340.65 148.0,340.84 148.5,341.03 149.0,341.21 149.5,341.24 150.0,341.26 150.5,341.28 151.0,341.69 151.5,342.10 152.0,342.52 152.5,342.37 153.0,342.22 153.5,342.07 154.0,342.16 154.5,342.24 155.0,342.32 155.5,342.35 156.0,342.38 156.5,342.41 157.0,342.58 157.5,342.75 158.0,342.91 158.5,343.34 159.0,343.27 159.5,343.19 160.0,343.00 160.5,342.81 161.0,342.62 161.5,342.73 162.0,342.84 162.5,342.95 163.0,342.99 163.5,343.04 164.0,343.08 164.5,343.10 165.0,343.13 165.5,343.15 166.0,343.13 166.5,343.10 167.0,343.08 167.5,343.15 168.0,343.23 168.5,343.30 169.0,343.29 169.5,343.29 170.0,343.28 170.5,343.24 171.0,343.21 171.5,343.17 172.0,343.13 172.5,343.10 173.0,343.06 173.5,343.02 174.0,342.98 174.5,342.95 175.0,343.05 175.5,343.15 176.0,343.25 176.5,343.27 177.0,343.28 177.5,343.30 178.0,343.23 178.5,343.17 179.0,343.11 179.5,343.15 180.0,343.19 180.5,343.23 181.0,343.14 181.5,343.04 182.0,342.94 182.5,342.94 183.0,342.94 183.5,342.93 184.0,343.04 184.5,343.15 185.0,343.25 185.5,343.26 186.0,343.26 186.5,343.26 187.0,343.18 187.5,343.10 188.0,343.02 188.5,342.94 189.0,342.86 189.5,342.78 190.0,342.94 190.5,343.10 191.0,343.27 191.5,343.26 192.0,343.25 192.5,343.25 193.0,343.23 193.5,343.21 194.0,343.19 194.5,343.12 195.0,343.05 195.5,342.98 196.0,343.04 196.5,343.11 197.0,343.17 197.5,343.20 198.0,343.23 198.5,343.26 199.0,343.23 199.5,343.20 200.0,343.16 200.5,343.09 201.0,343.01 201.5,342.94 202.0,342.98 202.5,343.01 203.0,343.05 203.5,343.03 204.0,343.00 204.5,342.97 205.0,343.05 205.5,343.12 206.0,343.20 206.5,343.04 207.0,342.88 207.5,342.72 208.0,342.79 208.5,342.86 209.0,342.93 209.5,343.01 210.0,343.08 210.5,343.15 211.0,343.20 211.5,343.24 212.0,343.29 212.5,343.24 213.0,343.19 213.5,343.15 214.0,343.19 214.5,343.23 215.0,343.27 215.5,343.25 216.0,343.23 216.5,343.21 217.0,343.19 217.5,343.16 218.0,343.14 218.5,343.15 219.0,343.15 219.5,343.16 220.0,343.10 220.5,343.04 221.0,342.98 221.5,342.98 222.0,342.98 222.5,342.98 223.0,343.05 223.5,343.11 224.0,343.17 224.5,343.15 225.0,343.12 225.5,343.10 226.0,343.12 226.5,343.15 227.0,343.17 227.5,343.14 228.0,343.10 228.5,343.07 229.0,343.13 229.5,343.20 230.0,343.26 230.5,343.27 231.0,343.27 231.5,343.28 232.0,343.24 232.5,343.21 233.0,343.17 233.5,343.11 234.0,343.05 234.5,342.99 235.0,343.09 235.5,343.18 236.0,343.28 236.5,343.29 237.0,343.29 237.5,343.30 238.0,343.27 238.5,343.24 239.0,343.21 239.5,343.21 240.0,343.21 240.5,343.21" fill="none" stroke="#3c5c96" stroke-width="1.1" stroke-linejoin="round" stroke-dasharray="3.2 2.2"/>
<line x1="59.00" y1="219.60" x2="59.00" y2="343.80" stroke="#231f20" stroke-width="1.2"/>
<line x1="55.30" y1="343.30" x2="59.00" y2="343.30" stroke="#231f20" stroke-width="1.0"/>
<text x="52.20" y="346.25" font-size="8.3" text-anchor="end">0</text>
<line x1="55.30" y1="313.13" x2="59.00" y2="313.13" stroke="#231f20" stroke-width="1.0"/>
<text x="52.20" y="316.08" font-size="8.3" text-anchor="end">100</text>
<line x1="55.30" y1="282.96" x2="59.00" y2="282.96" stroke="#231f20" stroke-width="1.0"/>
<text x="52.20" y="285.91" font-size="8.3" text-anchor="end">200</text>
<line x1="55.30" y1="252.79" x2="59.00" y2="252.79" stroke="#231f20" stroke-width="1.0"/>
<text x="52.20" y="255.74" font-size="8.3" text-anchor="end">300</text>
<line x1="55.30" y1="222.62" x2="59.00" y2="222.62" stroke="#231f20" stroke-width="1.0"/>
<text x="52.20" y="225.57" font-size="8.3" text-anchor="end">400</text>
<line x1="58.50" y1="343.30" x2="242.90" y2="343.30" stroke="#231f20" stroke-width="1.2"/>
<line x1="59.00" y1="343.30" x2="59.00" y2="347.00" stroke="#231f20" stroke-width="1.0"/>
<text x="59.00" y="358.00" font-size="8.3" text-anchor="middle">0</text>
<line x1="65.01" y1="343.30" x2="65.01" y2="345.10" stroke="#231f20" stroke-width="0.9"/>
<line x1="71.03" y1="343.30" x2="71.03" y2="345.10" stroke="#231f20" stroke-width="0.9"/>
<line x1="77.04" y1="343.30" x2="77.04" y2="345.10" stroke="#231f20" stroke-width="0.9"/>
<line x1="83.06" y1="343.30" x2="83.06" y2="345.10" stroke="#231f20" stroke-width="0.9"/>
<line x1="89.07" y1="343.30" x2="89.07" y2="345.10" stroke="#231f20" stroke-width="0.9"/>
<line x1="95.08" y1="343.30" x2="95.08" y2="345.10" stroke="#231f20" stroke-width="0.9"/>
<line x1="101.10" y1="343.30" x2="101.10" y2="345.10" stroke="#231f20" stroke-width="0.9"/>
<line x1="107.11" y1="343.30" x2="107.11" y2="345.10" stroke="#231f20" stroke-width="0.9"/>
<line x1="113.13" y1="343.30" x2="113.13" y2="345.10" stroke="#231f20" stroke-width="0.9"/>
<line x1="119.14" y1="343.30" x2="119.14" y2="347.00" stroke="#231f20" stroke-width="1.0"/>
<text x="119.14" y="358.00" font-size="8.3" text-anchor="middle">20</text>
<line x1="125.15" y1="343.30" x2="125.15" y2="345.10" stroke="#231f20" stroke-width="0.9"/>
<line x1="131.17" y1="343.30" x2="131.17" y2="345.10" stroke="#231f20" stroke-width="0.9"/>
<line x1="137.18" y1="343.30" x2="137.18" y2="345.10" stroke="#231f20" stroke-width="0.9"/>
<line x1="143.20" y1="343.30" x2="143.20" y2="345.10" stroke="#231f20" stroke-width="0.9"/>
<line x1="149.21" y1="343.30" x2="149.21" y2="345.10" stroke="#231f20" stroke-width="0.9"/>
<line x1="155.22" y1="343.30" x2="155.22" y2="345.10" stroke="#231f20" stroke-width="0.9"/>
<line x1="161.24" y1="343.30" x2="161.24" y2="345.10" stroke="#231f20" stroke-width="0.9"/>
<line x1="167.25" y1="343.30" x2="167.25" y2="345.10" stroke="#231f20" stroke-width="0.9"/>
<line x1="173.27" y1="343.30" x2="173.27" y2="345.10" stroke="#231f20" stroke-width="0.9"/>
<line x1="179.28" y1="343.30" x2="179.28" y2="347.00" stroke="#231f20" stroke-width="1.0"/>
<text x="179.28" y="358.00" font-size="8.3" text-anchor="middle">40</text>
<line x1="185.29" y1="343.30" x2="185.29" y2="345.10" stroke="#231f20" stroke-width="0.9"/>
<line x1="191.31" y1="343.30" x2="191.31" y2="345.10" stroke="#231f20" stroke-width="0.9"/>
<line x1="197.32" y1="343.30" x2="197.32" y2="345.10" stroke="#231f20" stroke-width="0.9"/>
<line x1="203.34" y1="343.30" x2="203.34" y2="345.10" stroke="#231f20" stroke-width="0.9"/>
<line x1="209.35" y1="343.30" x2="209.35" y2="345.10" stroke="#231f20" stroke-width="0.9"/>
<line x1="215.36" y1="343.30" x2="215.36" y2="345.10" stroke="#231f20" stroke-width="0.9"/>
<line x1="221.38" y1="343.30" x2="221.38" y2="345.10" stroke="#231f20" stroke-width="0.9"/>
<line x1="227.39" y1="343.30" x2="227.39" y2="345.10" stroke="#231f20" stroke-width="0.9"/>
<line x1="233.41" y1="343.30" x2="233.41" y2="345.10" stroke="#231f20" stroke-width="0.9"/>
<line x1="239.42" y1="343.30" x2="239.42" y2="347.00" stroke="#231f20" stroke-width="1.0"/>
<text x="239.42" y="358.00" font-size="8.3" text-anchor="middle">60</text>
<line x1="104.70" y1="223.50" x2="118.10" y2="223.50" stroke="#3c5c96" stroke-width="1.3" stroke-dasharray="3.3 2.8" stroke-dashoffset="1.2"/>
<text x="121.50" y="225.80" font-size="8.7" textLength="70.7" lengthAdjust="spacingAndGlyphs">FXI depleted plasma</text>
<line x1="104.70" y1="236.50" x2="118.10" y2="236.50" stroke="#3c5c96" stroke-width="1.3"/>
<text x="121.50" y="239.57" font-size="8.7" textLength="43.6" lengthAdjust="spacingAndGlyphs">+ <tspan font-style="italic">Moab</tspan> aFXI</text>
<line x1="104.70" y1="250.50" x2="118.10" y2="250.50" stroke="#a6203f" stroke-width="1.3"/>
<text x="121.50" y="253.34" font-size="8.7" textLength="109.4" lengthAdjust="spacingAndGlyphs">+ <tspan font-style="italic">Moab</tspan> aFXI + 0.63 &#956;g/ml FIX B</text>
<line x1="104.70" y1="264.50" x2="118.10" y2="264.50" stroke="#72b84c" stroke-width="1.3"/>
<text x="121.50" y="267.11" font-size="8.7" textLength="109.4" lengthAdjust="spacingAndGlyphs">+ <tspan font-style="italic">Moab</tspan> aFXI + 1.25 &#956;g/ml FIX B</text>
<line x1="104.70" y1="278.50" x2="118.10" y2="278.50" stroke="#6c4a8e" stroke-width="1.3"/>
<text x="121.50" y="280.88" font-size="8.7" textLength="105.5" lengthAdjust="spacingAndGlyphs">+ <tspan font-style="italic">Moab</tspan> aFXI + 2.5 &#956;g/ml FIX B</text>
<line x1="104.70" y1="291.50" x2="118.10" y2="291.50" stroke="#e0952e" stroke-width="1.3"/>
<text x="121.50" y="294.65" font-size="8.7" textLength="105.5" lengthAdjust="spacingAndGlyphs">+ <tspan font-style="italic">Moab</tspan> aFXI + 5.0 &#956;g/ml FIX B</text>
<text x="265.00" y="210.90" font-size="12.5">D</text>
<line x1="321.60" y1="219.50" x2="321.60" y2="343.60" stroke="#231f20" stroke-width="1.2"/>
<line x1="318.10" y1="343.10" x2="321.60" y2="343.10" stroke="#231f20" stroke-width="1.0"/>
<text x="315.40" y="346.05" font-size="8.3" text-anchor="end">0</text>
<line x1="318.10" y1="303.10" x2="321.60" y2="303.10" stroke="#231f20" stroke-width="1.0"/>
<text x="315.40" y="306.05" font-size="8.3" text-anchor="end">5</text>
<line x1="318.10" y1="263.10" x2="321.60" y2="263.10" stroke="#231f20" stroke-width="1.0"/>
<text x="315.40" y="266.05" font-size="8.3" text-anchor="end">10</text>
<line x1="318.10" y1="223.10" x2="321.60" y2="223.10" stroke="#231f20" stroke-width="1.0"/>
<text x="315.40" y="226.05" font-size="8.3" text-anchor="end">15</text>
<line x1="321.10" y1="343.10" x2="506.00" y2="343.10" stroke="#231f20" stroke-width="1.2"/>
<text transform="translate(299.2,281.6) rotate(-90)" font-size="10" text-anchor="middle" textLength="66.6" lengthAdjust="spacingAndGlyphs">Clot time (min)</text>
<rect x="332.60" y="284.50" width="16.8" height="58.60" fill="#a2334b" stroke="#8d1b33" stroke-width="0.8"/>
<rect x="361.14" y="249.70" width="16.8" height="93.40" fill="#a2334b" stroke="#8d1b33" stroke-width="0.8"/>
<rect x="389.68" y="287.10" width="16.8" height="56.00" fill="#a2334b" stroke="#8d1b33" stroke-width="0.8"/>
<rect x="418.22" y="293.80" width="16.8" height="49.30" fill="#a2334b" stroke="#8d1b33" stroke-width="0.8"/>
<rect x="446.76" y="302.60" width="16.8" height="40.50" fill="#a2334b" stroke="#8d1b33" stroke-width="0.8"/>
<rect x="475.30" y="307.50" width="16.8" height="35.60" fill="#a2334b" stroke="#8d1b33" stroke-width="0.8"/>
<circle cx="341" cy="277.5" r="2.5" fill="#0a0a0a"/>
<circle cx="341" cy="288" r="2.5" fill="#0a0a0a"/>
<circle cx="362.4" cy="248.5" r="2.5" fill="#0a0a0a"/>
<circle cx="376.6" cy="247.75" r="2.5" fill="#0a0a0a"/>
<circle cx="398" cy="282.3" r="2.5" fill="#0a0a0a"/>
<circle cx="398" cy="288.8" r="2.5" fill="#0a0a0a"/>
<circle cx="419.5" cy="292.8" r="2.5" fill="#0a0a0a"/>
<circle cx="433.7" cy="290.5" r="2.5" fill="#0a0a0a"/>
<circle cx="455" cy="296.2" r="2.5" fill="#0a0a0a"/>
<circle cx="455" cy="306" r="2.5" fill="#0a0a0a"/>
<circle cx="476.6" cy="306.6" r="2.5" fill="#0a0a0a"/>
<circle cx="490.7" cy="305.8" r="2.5" fill="#0a0a0a"/>
<text x="269.20" y="354.10" font-size="8.8" textLength="21.5" lengthAdjust="spacingAndGlyphs">Blood</text>
<text x="269.20" y="365.30" font-size="8.8" textLength="39.0" lengthAdjust="spacingAndGlyphs">Moab aFXI</text>
<text x="269.20" y="375.70" font-size="8.8" textLength="48.7" lengthAdjust="spacingAndGlyphs">FIX B (&#956;g/ml)</text>
<text x="340.80" y="355.40" font-size="9" text-anchor="middle">+</text>
<text x="340.80" y="366.40" font-size="9" text-anchor="middle">-</text>
<text x="340.80" y="376.90" font-size="9" text-anchor="middle">0</text>
<text x="369.34" y="355.40" font-size="9" text-anchor="middle">+</text>
<text x="369.34" y="366.70" font-size="9" text-anchor="middle">+</text>
<text x="369.34" y="376.90" font-size="9" text-anchor="middle">0</text>
<text x="397.88" y="355.40" font-size="9" text-anchor="middle">+</text>
<text x="397.88" y="366.70" font-size="9" text-anchor="middle">+</text>
<text x="397.88" y="376.90" font-size="9" text-anchor="middle" textLength="15.8" lengthAdjust="spacingAndGlyphs">0.63</text>
<text x="426.42" y="355.40" font-size="9" text-anchor="middle">+</text>
<text x="426.42" y="366.70" font-size="9" text-anchor="middle">+</text>
<text x="426.42" y="376.90" font-size="9" text-anchor="middle" textLength="15.2" lengthAdjust="spacingAndGlyphs">1.25</text>
<text x="454.96" y="355.40" font-size="9" text-anchor="middle">+</text>
<text x="454.96" y="366.70" font-size="9" text-anchor="middle">+</text>
<text x="454.96" y="376.90" font-size="9" text-anchor="middle" textLength="11.6" lengthAdjust="spacingAndGlyphs">2.5</text>
<text x="483.50" y="355.40" font-size="9" text-anchor="middle">+</text>
<text x="483.50" y="366.70" font-size="9" text-anchor="middle">+</text>
<text x="483.50" y="376.90" font-size="9" text-anchor="middle" textLength="12.0" lengthAdjust="spacingAndGlyphs">5.0</text>
<rect x="0" y="0" width="520" height="1" fill="#050505"/>
<rect x="0" y="0" width="1.5" height="387" fill="#555"/>
<rect x="518" y="0" width="2" height="387" fill="#4d4d4d"/>
<rect x="0" y="385" width="520" height="2" fill="#525252"/>
</svg>
</body></html>
